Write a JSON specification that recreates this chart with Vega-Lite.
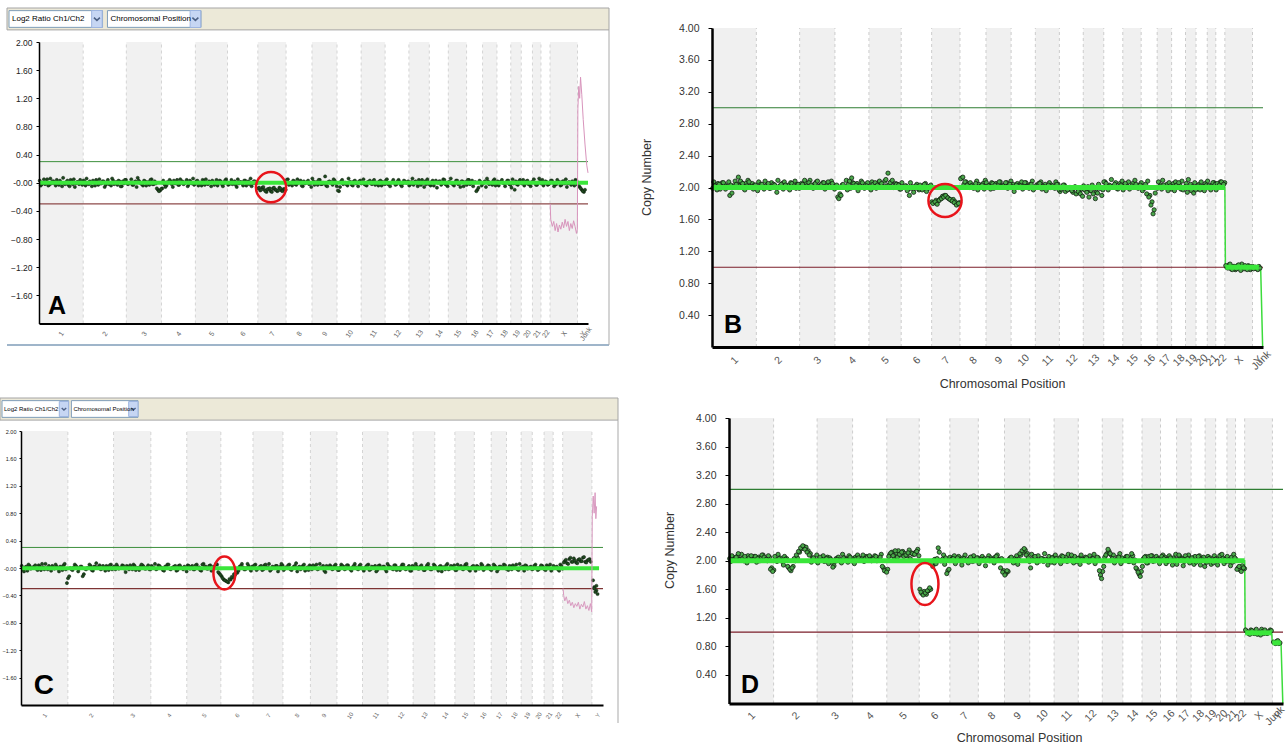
{
"$schema":"https://vega.github.io/schema/vega-lite/v6.json",
"width":1288,"height":743,"autosize":{"type":"none"},"padding":0,"background":"#ffffff",
"config":{"view":{"stroke":null},"font":"Liberation Sans","axis":{"grid":false}},
"datasets":{
"one":[{}],
"ctl":[{"ctl":"Log2 Ratio Ch1/Ch2"},{"ctl":"Chromosomal Position"}],
"chr":[{"c":"1","s":0,"e":249,"i":1},{"c":"2","s":249,"e":492,"i":2},{"c":"3","s":492,"e":690,"i":3},{"c":"4","s":690,"e":881,"i":4},{"c":"5","s":881,"e":1062,"i":5},{"c":"6","s":1062,"e":1233,"i":6},{"c":"7","s":1233,"e":1392,"i":7},{"c":"8","s":1392,"e":1538,"i":8},{"c":"9","s":1538,"e":1679,"i":9},{"c":"10","s":1679,"e":1815,"i":10},{"c":"11","s":1815,"e":1950,"i":11},{"c":"12","s":1950,"e":2084,"i":12},{"c":"13","s":2084,"e":2199,"i":13},{"c":"14","s":2199,"e":2306,"i":14},{"c":"15","s":2306,"e":2409,"i":15},{"c":"16","s":2409,"e":2499,"i":16},{"c":"17","s":2499,"e":2580,"i":17},{"c":"18","s":2580,"e":2658,"i":18},{"c":"19","s":2658,"e":2717,"i":19},{"c":"20","s":2717,"e":2780,"i":20},{"c":"21","s":2780,"e":2828,"i":21},{"c":"22","s":2828,"e":2879,"i":22},{"c":"X","s":2879,"e":3034,"i":23},{"c":"Y","s":3034,"e":3093,"i":24}],
"segA":[{"p":0,"p2":3093,"v":0}],
"segC":[{"p":0,"p2":3072,"v":-0.005}],
"segB":[{"p":0,"p2":2879,"v":2},{"p":2882,"p2":3070,"v":1}],
"segD":[{"p":0,"p2":2879,"v":2},{"p":2882,"p2":3030,"v":0.99},{"p":3034,"p2":3080,"v":0.85}],
"pathB":[{"p":0,"v":2},{"p":2879,"v":2},{"p":2882,"v":1},{"p":3070,"v":0.99},{"p":3080,"v":0.98},{"p":3091,"v":0}],
"pathD":[{"p":0,"v":2},{"p":2879,"v":2},{"p":2882,"v":1},{"p":3030,"v":0.99},{"p":3033,"v":0.86},{"p":3082,"v":0.85},{"p":3092,"v":0}],
"pinkA":[{"p":2880,"v":-0.3},{"p":2883,"v":-0.52},{"p":2892,"v":-0.62},{"p":2900,"v":-0.55},{"p":2908,"v":-0.68},{"p":2916,"v":-0.58},{"p":2924,"v":-0.7},{"p":2932,"v":-0.6},{"p":2940,"v":-0.66},{"p":2948,"v":-0.56},{"p":2956,"v":-0.64},{"p":2964,"v":-0.52},{"p":2972,"v":-0.62},{"p":2980,"v":-0.55},{"p":2988,"v":-0.68},{"p":2996,"v":-0.58},{"p":3004,"v":-0.65},{"p":3012,"v":-0.54},{"p":3020,"v":-0.62},{"p":3028,"v":-0.72},{"p":3033,"v":-0.66},{"p":3036,"v":1.05},{"p":3041,"v":1.37},{"p":3046,"v":1.2},{"p":3051,"v":1.5},{"p":3058,"v":1.25},{"p":3066,"v":0.9},{"p":3076,"v":0.55},{"p":3086,"v":0.25},{"p":3093,"v":0.14}],
"pinkC":[{"p":2881,"v":-0.3},{"p":2884,"v":-0.4},{"p":2890,"v":-0.48},{"p":2898,"v":-0.42},{"p":2906,"v":-0.52},{"p":2914,"v":-0.47},{"p":2922,"v":-0.55},{"p":2930,"v":-0.5},{"p":2938,"v":-0.58},{"p":2946,"v":-0.52},{"p":2954,"v":-0.56},{"p":2962,"v":-0.5},{"p":2970,"v":-0.6},{"p":2978,"v":-0.53},{"p":2986,"v":-0.57},{"p":2994,"v":-0.49},{"p":3002,"v":-0.6},{"p":3010,"v":-0.55},{"p":3018,"v":-0.62},{"p":3026,"v":-0.52},{"p":3033,"v":-0.64},{"p":3036,"v":0.75},{"p":3041,"v":1.05},{"p":3046,"v":0.8},{"p":3051,"v":1.1},{"p":3055,"v":0.72},{"p":3059,"v":0.9}],
"ptsA":[{"p":4,"v":0.03},{"p":16,"v":-0.02},{"p":28,"v":0.05},{"p":40,"v":0.01},{"p":52,"v":-0.04},{"p":64,"v":0.06},{"p":76,"v":0.02},{"p":88,"v":-0.01},{"p":100,"v":0.04},{"p":112,"v":-0.03},{"p":124,"v":0.0},{"p":136,"v":0.07},{"p":148,"v":-0.02},{"p":160,"v":0.03},{"p":172,"v":-0.05},{"p":184,"v":0.02},{"p":196,"v":0.05},{"p":208,"v":-0.01},{"p":220,"v":0.01},{"p":232,"v":0.04},{"p":244,"v":-0.03},{"p":256,"v":0.02},{"p":268,"v":0.06},{"p":280,"v":-0.02},{"p":292,"v":0.0},{"p":304,"v":0.03},{"p":316,"v":-0.04},{"p":328,"v":0.01},{"p":340,"v":0.05},{"p":352,"v":-0.01},{"p":364,"v":0.02},{"p":376,"v":-0.03},{"p":388,"v":0.04},{"p":400,"v":0.0},{"p":412,"v":0.06},{"p":424,"v":-0.02},{"p":436,"v":0.01},{"p":448,"v":0.03},{"p":460,"v":-0.05},{"p":472,"v":0.02},{"p":484,"v":0.04},{"p":496,"v":-0.01},{"p":508,"v":0.0},{"p":520,"v":0.05},{"p":532,"v":-0.03},{"p":544,"v":0.02},{"p":556,"v":0.07},{"p":568,"v":0.01},{"p":580,"v":-0.02},{"p":592,"v":0.03},{"p":604,"v":-0.04},{"p":616,"v":0.01},{"p":628,"v":0.04},{"p":640,"v":-0.02},{"p":652,"v":0.02},{"p":664,"v":-0.08},{"p":676,"v":-0.12},{"p":688,"v":-0.09},{"p":700,"v":0.03},{"p":712,"v":-0.06},{"p":724,"v":0.01},{"p":736,"v":0.04},{"p":748,"v":-0.02},{"p":760,"v":0.03},{"p":772,"v":0.0},{"p":784,"v":-0.03},{"p":796,"v":0.05},{"p":808,"v":0.02},{"p":820,"v":-0.01},{"p":832,"v":0.04},{"p":844,"v":-0.02},{"p":856,"v":0.01},{"p":868,"v":0.06},{"p":880,"v":-0.01},{"p":892,"v":0.03},{"p":904,"v":0.0},{"p":916,"v":-0.04},{"p":928,"v":0.02},{"p":940,"v":0.05},{"p":952,"v":-0.02},{"p":964,"v":0.01},{"p":976,"v":0.03},{"p":988,"v":-0.03},{"p":1000,"v":0.04},{"p":1012,"v":0.0},{"p":1024,"v":0.02},{"p":1036,"v":-0.05},{"p":1048,"v":0.03},{"p":1060,"v":0.01},{"p":1072,"v":-0.02},{"p":1084,"v":0.04},{"p":1096,"v":0.0},{"p":1108,"v":-0.03},{"p":1120,"v":0.05},{"p":1132,"v":0.01},{"p":1144,"v":-0.01},{"p":1156,"v":0.03},{"p":1168,"v":-0.04},{"p":1180,"v":0.02},{"p":1192,"v":0.06},{"p":1204,"v":-0.01},{"p":1216,"v":0.02},{"p":1228,"v":0.0},{"p":1240,"v":-0.07},{"p":1252,"v":-0.1},{"p":1264,"v":-0.06},{"p":1276,"v":-0.12},{"p":1288,"v":-0.09},{"p":1300,"v":-0.08},{"p":1312,"v":-0.13},{"p":1324,"v":-0.07},{"p":1336,"v":-0.1},{"p":1348,"v":-0.11},{"p":1360,"v":-0.08},{"p":1372,"v":-0.12},{"p":1384,"v":-0.09},{"p":1396,"v":0.04},{"p":1408,"v":-0.03},{"p":1420,"v":0.0},{"p":1432,"v":0.03},{"p":1444,"v":-0.02},{"p":1456,"v":0.05},{"p":1468,"v":0.01},{"p":1480,"v":-0.04},{"p":1492,"v":0.02},{"p":1504,"v":0.0},{"p":1516,"v":0.03},{"p":1528,"v":-0.01},{"p":1540,"v":0.06},{"p":1552,"v":-0.03},{"p":1564,"v":0.01},{"p":1576,"v":0.04},{"p":1588,"v":-0.02},{"p":1600,"v":0.0},{"p":1612,"v":0.09},{"p":1624,"v":-0.05},{"p":1636,"v":0.02},{"p":1648,"v":0.01},{"p":1660,"v":0.05},{"p":1672,"v":-0.01},{"p":1684,"v":-0.11},{"p":1696,"v":-0.06},{"p":1708,"v":0.04},{"p":1720,"v":0.0},{"p":1732,"v":-0.02},{"p":1744,"v":0.06},{"p":1756,"v":0.01},{"p":1768,"v":-0.04},{"p":1780,"v":0.03},{"p":1792,"v":0.0},{"p":1804,"v":0.02},{"p":1816,"v":-0.01},{"p":1828,"v":0.05},{"p":1840,"v":-0.03},{"p":1852,"v":0.01},{"p":1864,"v":0.03},{"p":1876,"v":-0.02},{"p":1888,"v":0.04},{"p":1900,"v":0.0},{"p":1912,"v":-0.04},{"p":1924,"v":0.03},{"p":1936,"v":0.01},{"p":1948,"v":-0.02},{"p":1960,"v":0.05},{"p":1972,"v":-0.01},{"p":1984,"v":0.0},{"p":1996,"v":0.04},{"p":2008,"v":-0.03},{"p":2020,"v":0.02},{"p":2032,"v":0.01},{"p":2044,"v":-0.05},{"p":2056,"v":0.03},{"p":2068,"v":0.0},{"p":2080,"v":0.02},{"p":2092,"v":-0.02},{"p":2104,"v":0.06},{"p":2116,"v":0.01},{"p":2128,"v":-0.01},{"p":2140,"v":0.04},{"p":2152,"v":-0.03},{"p":2164,"v":0.0},{"p":2176,"v":0.02},{"p":2188,"v":0.05},{"p":2200,"v":-0.02},{"p":2212,"v":0.01},{"p":2224,"v":-0.04},{"p":2236,"v":0.03},{"p":2248,"v":0.0},{"p":2260,"v":0.02},{"p":2272,"v":-0.01},{"p":2284,"v":0.04},{"p":2296,"v":-0.03},{"p":2308,"v":0.01},{"p":2320,"v":0.06},{"p":2332,"v":-0.02},{"p":2344,"v":0.0},{"p":2356,"v":0.03},{"p":2368,"v":-0.01},{"p":2380,"v":0.02},{"p":2392,"v":-0.05},{"p":2404,"v":0.01},{"p":2416,"v":0.04},{"p":2428,"v":-0.02},{"p":2440,"v":0.03},{"p":2452,"v":0.0},{"p":2464,"v":-0.12},{"p":2476,"v":-0.07},{"p":2488,"v":0.01},{"p":2500,"v":-0.01},{"p":2512,"v":0.02},{"p":2524,"v":0.06},{"p":2536,"v":-0.02},{"p":2548,"v":0.0},{"p":2560,"v":0.03},{"p":2572,"v":-0.04},{"p":2584,"v":0.02},{"p":2596,"v":0.01},{"p":2608,"v":0.04},{"p":2620,"v":-0.01},{"p":2632,"v":0.0},{"p":2644,"v":0.03},{"p":2656,"v":-0.03},{"p":2668,"v":0.05},{"p":2680,"v":-0.1},{"p":2692,"v":-0.02},{"p":2704,"v":0.02},{"p":2716,"v":0.0},{"p":2728,"v":0.04},{"p":2740,"v":-0.01},{"p":2752,"v":0.03},{"p":2764,"v":-0.02},{"p":2776,"v":0.01},{"p":2788,"v":0.05},{"p":2800,"v":-0.03},{"p":2812,"v":0.0},{"p":2824,"v":0.02},{"p":2836,"v":0.04},{"p":2848,"v":-0.01},{"p":2860,"v":0.01},{"p":2872,"v":-0.02},{"p":2884,"v":0.03},{"p":2896,"v":0.0},{"p":2908,"v":-0.02},{"p":2920,"v":0.04},{"p":2932,"v":0.01},{"p":2944,"v":-0.03},{"p":2956,"v":0.02},{"p":2968,"v":0.05},{"p":2980,"v":-0.01},{"p":2992,"v":0.0},{"p":3004,"v":0.02},{"p":3016,"v":-0.04},{"p":3028,"v":0.03},{"p":3040,"v":-0.04},{"p":3052,"v":-0.08},{"p":3064,"v":-0.12},{"p":3076,"v":-0.1}],
"ptsA2":[{"p":10,"v":-0.04},{"p":22,"v":0.0},{"p":34,"v":-0.02},{"p":46,"v":0.05},{"p":58,"v":-0.03},{"p":70,"v":-0.01},{"p":82,"v":0.02},{"p":94,"v":-0.04},{"p":106,"v":0.0},{"p":118,"v":0.03},{"p":130,"v":-0.05},{"p":142,"v":-0.01},{"p":154,"v":0.01},{"p":166,"v":-0.03},{"p":178,"v":0.04},{"p":190,"v":-0.02},{"p":202,"v":-0.06},{"p":214,"v":0.01},{"p":226,"v":-0.02},{"p":238,"v":0.0},{"p":250,"v":0.03},{"p":262,"v":-0.04},{"p":274,"v":-0.01},{"p":286,"v":0.02},{"p":298,"v":-0.05},{"p":310,"v":0.0},{"p":322,"v":0.04},{"p":334,"v":-0.03},{"p":346,"v":-0.01},{"p":358,"v":0.02},{"p":370,"v":-0.06},{"p":382,"v":0.01},{"p":394,"v":-0.02},{"p":406,"v":-0.04},{"p":418,"v":0.03},{"p":430,"v":0.0},{"p":442,"v":-0.03},{"p":454,"v":0.02},{"p":466,"v":-0.05},{"p":478,"v":-0.01},{"p":490,"v":0.04},{"p":502,"v":-0.02},{"p":514,"v":0.0},{"p":526,"v":-0.03},{"p":538,"v":0.01},{"p":550,"v":-0.06},{"p":562,"v":0.03},{"p":574,"v":-0.01},{"p":586,"v":-0.04},{"p":598,"v":0.02},{"p":610,"v":0.0},{"p":622,"v":-0.03},{"p":634,"v":0.05},{"p":646,"v":-0.02},{"p":658,"v":-0.01},{"p":670,"v":-0.1},{"p":682,"v":-0.11},{"p":694,"v":-0.08},{"p":706,"v":-0.02},{"p":718,"v":-0.04},{"p":730,"v":0.0},{"p":742,"v":0.02},{"p":754,"v":-0.06},{"p":766,"v":-0.01},{"p":778,"v":0.04},{"p":790,"v":-0.03},{"p":802,"v":0.0},{"p":814,"v":-0.02},{"p":826,"v":0.01},{"p":838,"v":-0.05},{"p":850,"v":0.03},{"p":862,"v":-0.01},{"p":874,"v":-0.03},{"p":886,"v":0.02},{"p":898,"v":-0.04},{"p":910,"v":0.0},{"p":922,"v":0.04},{"p":934,"v":-0.03},{"p":946,"v":-0.01},{"p":958,"v":0.02},{"p":970,"v":-0.05},{"p":982,"v":0.01},{"p":994,"v":0.0},{"p":1006,"v":-0.04},{"p":1018,"v":0.03},{"p":1030,"v":-0.02},{"p":1042,"v":-0.01},{"p":1054,"v":0.05},{"p":1066,"v":-0.03},{"p":1078,"v":0.0},{"p":1090,"v":-0.02},{"p":1102,"v":0.02},{"p":1114,"v":-0.06},{"p":1126,"v":-0.01},{"p":1138,"v":0.01},{"p":1150,"v":-0.04},{"p":1162,"v":0.03},{"p":1174,"v":0.0},{"p":1186,"v":-0.02},{"p":1198,"v":-0.05},{"p":1210,"v":0.02},{"p":1222,"v":-0.01},{"p":1234,"v":-0.08},{"p":1246,"v":-0.11},{"p":1258,"v":-0.07},{"p":1270,"v":-0.1},{"p":1282,"v":-0.13},{"p":1294,"v":-0.09},{"p":1306,"v":-0.12},{"p":1318,"v":-0.08},{"p":1330,"v":-0.1},{"p":1342,"v":-0.12},{"p":1354,"v":-0.07},{"p":1366,"v":-0.11},{"p":1378,"v":-0.09},{"p":1390,"v":-0.1},{"p":1402,"v":0.05},{"p":1414,"v":-0.01},{"p":1426,"v":-0.04},{"p":1438,"v":0.02},{"p":1450,"v":-0.03},{"p":1462,"v":0.0},{"p":1474,"v":0.03},{"p":1486,"v":-0.05},{"p":1498,"v":-0.01},{"p":1510,"v":0.01},{"p":1522,"v":-0.02},{"p":1534,"v":-0.06},{"p":1546,"v":0.02},{"p":1558,"v":0.0},{"p":1570,"v":-0.03},{"p":1582,"v":0.04},{"p":1594,"v":-0.02},{"p":1606,"v":-0.01},{"p":1618,"v":-0.04},{"p":1630,"v":0.01},{"p":1642,"v":0.0},{"p":1654,"v":-0.03},{"p":1666,"v":0.03},{"p":1678,"v":-0.05},{"p":1690,"v":-0.12},{"p":1702,"v":0.02},{"p":1714,"v":-0.02},{"p":1726,"v":0.0},{"p":1738,"v":-0.04},{"p":1750,"v":0.01},{"p":1762,"v":-0.03},{"p":1774,"v":0.02},{"p":1786,"v":-0.01},{"p":1798,"v":-0.05},{"p":1810,"v":0.03},{"p":1822,"v":0.0},{"p":1834,"v":-0.02},{"p":1846,"v":-0.04},{"p":1858,"v":0.01},{"p":1870,"v":-0.01},{"p":1882,"v":0.02},{"p":1894,"v":-0.03},{"p":1906,"v":0.0},{"p":1918,"v":0.02},{"p":1930,"v":-0.04},{"p":1942,"v":-0.01},{"p":1954,"v":0.03},{"p":1966,"v":-0.02},{"p":1978,"v":-0.05},{"p":1990,"v":0.01},{"p":2002,"v":0.0},{"p":2014,"v":-0.02},{"p":2026,"v":0.04},{"p":2038,"v":-0.03},{"p":2050,"v":-0.01},{"p":2062,"v":0.02},{"p":2074,"v":0.0},{"p":2086,"v":-0.04},{"p":2098,"v":0.01},{"p":2110,"v":-0.03},{"p":2122,"v":0.02},{"p":2134,"v":-0.05},{"p":2146,"v":-0.01},{"p":2158,"v":0.04},{"p":2170,"v":-0.06},{"p":2182,"v":-0.02},{"p":2194,"v":0.01},{"p":2206,"v":-0.04},{"p":2218,"v":0.03},{"p":2230,"v":0.0},{"p":2242,"v":-0.07},{"p":2254,"v":0.02},{"p":2266,"v":-0.03},{"p":2278,"v":0.05},{"p":2290,"v":-0.02},{"p":2302,"v":-0.05},{"p":2314,"v":0.01},{"p":2326,"v":-0.01},{"p":2338,"v":-0.04},{"p":2350,"v":0.03},{"p":2362,"v":-0.02},{"p":2374,"v":-0.06},{"p":2386,"v":0.02},{"p":2398,"v":0.0},{"p":2410,"v":-0.03},{"p":2422,"v":0.04},{"p":2434,"v":-0.01},{"p":2446,"v":-0.05},{"p":2458,"v":0.01},{"p":2470,"v":-0.1},{"p":2482,"v":0.03},{"p":2494,"v":-0.04},{"p":2506,"v":0.0},{"p":2518,"v":-0.06},{"p":2530,"v":0.02},{"p":2542,"v":-0.01},{"p":2554,"v":-0.03},{"p":2566,"v":0.05},{"p":2578,"v":-0.02},{"p":2590,"v":-0.04},{"p":2602,"v":0.01},{"p":2614,"v":0.0},{"p":2626,"v":-0.05},{"p":2638,"v":0.03},{"p":2650,"v":-0.02},{"p":2662,"v":-0.07},{"p":2674,"v":-0.01},{"p":2686,"v":0.02},{"p":2698,"v":-0.03},{"p":2710,"v":0.04},{"p":2722,"v":-0.01},{"p":2734,"v":-0.04},{"p":2746,"v":0.02},{"p":2758,"v":-0.02},{"p":2770,"v":-0.05},{"p":2782,"v":0.01},{"p":2794,"v":0.0},{"p":2806,"v":-0.03},{"p":2818,"v":0.06},{"p":2830,"v":-0.01},{"p":2842,"v":-0.04},{"p":2854,"v":0.02},{"p":2866,"v":-0.03},{"p":2878,"v":0.0},{"p":2890,"v":0.03},{"p":2902,"v":-0.05},{"p":2914,"v":-0.02},{"p":2926,"v":0.01},{"p":2938,"v":-0.04},{"p":2950,"v":0.02},{"p":2962,"v":-0.01},{"p":2974,"v":-0.06},{"p":2986,"v":0.01},{"p":2998,"v":-0.03},{"p":3010,"v":0.0},{"p":3022,"v":0.04},{"p":3034,"v":-0.02},{"p":3046,"v":-0.06},{"p":3058,"v":-0.1},{"p":3070,"v":-0.13}],
"ptsC":[{"p":4,"v":0.03},{"p":16,"v":-0.05},{"p":28,"v":0.02},{"p":40,"v":0.05},{"p":52,"v":-0.01},{"p":64,"v":0.01},{"p":76,"v":0.04},{"p":88,"v":-0.03},{"p":100,"v":0.02},{"p":112,"v":0.06},{"p":124,"v":-0.02},{"p":136,"v":0.0},{"p":148,"v":0.03},{"p":160,"v":-0.04},{"p":172,"v":0.01},{"p":184,"v":0.05},{"p":196,"v":-0.01},{"p":208,"v":0.02},{"p":220,"v":-0.03},{"p":232,"v":0.06},{"p":244,"v":-0.22},{"p":256,"v":-0.12},{"p":268,"v":-0.02},{"p":280,"v":0.01},{"p":292,"v":0.03},{"p":304,"v":-0.05},{"p":316,"v":0.02},{"p":328,"v":-0.12},{"p":340,"v":-0.01},{"p":352,"v":0.0},{"p":364,"v":0.05},{"p":376,"v":-0.03},{"p":388,"v":0.02},{"p":400,"v":0.07},{"p":412,"v":0.01},{"p":424,"v":-0.02},{"p":436,"v":0.03},{"p":448,"v":-0.04},{"p":460,"v":0.01},{"p":472,"v":0.04},{"p":484,"v":-0.02},{"p":496,"v":0.02},{"p":508,"v":0.05},{"p":520,"v":-0.01},{"p":532,"v":0.0},{"p":544,"v":0.03},{"p":556,"v":-0.06},{"p":568,"v":0.01},{"p":580,"v":0.04},{"p":592,"v":-0.02},{"p":604,"v":0.03},{"p":616,"v":0.0},{"p":628,"v":-0.03},{"p":640,"v":0.05},{"p":652,"v":0.02},{"p":664,"v":-0.01},{"p":676,"v":0.04},{"p":688,"v":-0.02},{"p":700,"v":0.01},{"p":712,"v":0.06},{"p":724,"v":-0.01},{"p":736,"v":0.03},{"p":748,"v":0.0},{"p":760,"v":-0.04},{"p":772,"v":0.02},{"p":784,"v":0.05},{"p":796,"v":-0.02},{"p":808,"v":0.01},{"p":820,"v":0.03},{"p":832,"v":-0.03},{"p":844,"v":0.04},{"p":856,"v":0.0},{"p":868,"v":0.02},{"p":880,"v":-0.05},{"p":892,"v":0.03},{"p":904,"v":0.01},{"p":916,"v":-0.02},{"p":928,"v":0.04},{"p":940,"v":0.0},{"p":952,"v":-0.03},{"p":964,"v":0.05},{"p":976,"v":0.01},{"p":988,"v":-0.01},{"p":1000,"v":0.03},{"p":1012,"v":-0.04},{"p":1024,"v":0.02},{"p":1036,"v":0.06},{"p":1048,"v":-0.06},{"p":1060,"v":-0.1},{"p":1072,"v":-0.15},{"p":1084,"v":-0.18},{"p":1096,"v":-0.2},{"p":1108,"v":-0.16},{"p":1120,"v":-0.13},{"p":1132,"v":-0.09},{"p":1144,"v":-0.06},{"p":1156,"v":-0.04},{"p":1168,"v":0.03},{"p":1180,"v":0.01},{"p":1192,"v":-0.02},{"p":1204,"v":0.06},{"p":1216,"v":-0.01},{"p":1228,"v":0.02},{"p":1240,"v":0.04},{"p":1252,"v":-0.03},{"p":1264,"v":0.0},{"p":1276,"v":0.03},{"p":1288,"v":-0.02},{"p":1300,"v":0.05},{"p":1312,"v":0.01},{"p":1324,"v":-0.04},{"p":1336,"v":0.02},{"p":1348,"v":0.0},{"p":1360,"v":0.03},{"p":1372,"v":-0.01},{"p":1384,"v":0.06},{"p":1396,"v":-0.03},{"p":1408,"v":0.01},{"p":1420,"v":0.04},{"p":1432,"v":-0.02},{"p":1444,"v":0.0},{"p":1456,"v":0.03},{"p":1468,"v":-0.05},{"p":1480,"v":0.02},{"p":1492,"v":0.01},{"p":1504,"v":0.05},{"p":1516,"v":-0.01},{"p":1528,"v":-0.03},{"p":1540,"v":0.02},{"p":1552,"v":0.04},{"p":1564,"v":0.0},{"p":1576,"v":-0.02},{"p":1588,"v":0.06},{"p":1600,"v":0.01},{"p":1612,"v":-0.04},{"p":1624,"v":0.03},{"p":1636,"v":0.0},{"p":1648,"v":0.02},{"p":1660,"v":-0.01},{"p":1672,"v":0.05},{"p":1684,"v":-0.03},{"p":1696,"v":0.01},{"p":1708,"v":0.03},{"p":1720,"v":-0.02},{"p":1732,"v":0.04},{"p":1744,"v":0.0},{"p":1756,"v":-0.04},{"p":1768,"v":0.03},{"p":1780,"v":0.01},{"p":1792,"v":-0.02},{"p":1804,"v":0.05},{"p":1816,"v":-0.01},{"p":1828,"v":0.0},{"p":1840,"v":0.04},{"p":1852,"v":-0.03},{"p":1864,"v":0.02},{"p":1876,"v":0.01},{"p":1888,"v":-0.05},{"p":1900,"v":0.03},{"p":1912,"v":0.0},{"p":1924,"v":0.02},{"p":1936,"v":-0.02},{"p":1948,"v":0.06},{"p":1960,"v":0.01},{"p":1972,"v":-0.01},{"p":1984,"v":0.04},{"p":1996,"v":-0.03},{"p":2008,"v":0.0},{"p":2020,"v":0.02},{"p":2032,"v":0.05},{"p":2044,"v":-0.02},{"p":2056,"v":0.01},{"p":2068,"v":-0.04},{"p":2080,"v":0.03},{"p":2092,"v":0.0},{"p":2104,"v":0.02},{"p":2116,"v":-0.01},{"p":2128,"v":0.04},{"p":2140,"v":-0.03},{"p":2152,"v":0.01},{"p":2164,"v":0.06},{"p":2176,"v":-0.02},{"p":2188,"v":0.0},{"p":2200,"v":0.03},{"p":2212,"v":-0.01},{"p":2224,"v":0.02},{"p":2236,"v":-0.05},{"p":2248,"v":0.01},{"p":2260,"v":0.04},{"p":2272,"v":-0.02},{"p":2284,"v":0.03},{"p":2296,"v":0.0},{"p":2308,"v":-0.03},{"p":2320,"v":0.05},{"p":2332,"v":0.01},{"p":2344,"v":-0.01},{"p":2356,"v":0.02},{"p":2368,"v":0.06},{"p":2380,"v":-0.02},{"p":2392,"v":0.0},{"p":2404,"v":0.03},{"p":2416,"v":-0.04},{"p":2428,"v":0.02},{"p":2440,"v":0.01},{"p":2452,"v":0.04},{"p":2464,"v":-0.01},{"p":2476,"v":0.0},{"p":2488,"v":0.03},{"p":2500,"v":-0.03},{"p":2512,"v":0.05},{"p":2524,"v":0.01},{"p":2536,"v":-0.02},{"p":2548,"v":0.02},{"p":2560,"v":0.0},{"p":2572,"v":0.04},{"p":2584,"v":-0.01},{"p":2596,"v":0.03},{"p":2608,"v":-0.02},{"p":2620,"v":0.01},{"p":2632,"v":0.05},{"p":2644,"v":-0.03},{"p":2656,"v":0.0},{"p":2668,"v":0.02},{"p":2680,"v":0.04},{"p":2692,"v":-0.01},{"p":2704,"v":0.01},{"p":2716,"v":-0.02},{"p":2728,"v":0.03},{"p":2740,"v":0.0},{"p":2752,"v":-0.02},{"p":2764,"v":0.04},{"p":2776,"v":0.01},{"p":2788,"v":-0.03},{"p":2800,"v":0.02},{"p":2812,"v":0.05},{"p":2824,"v":-0.01},{"p":2836,"v":0.0},{"p":2848,"v":0.02},{"p":2860,"v":-0.04},{"p":2872,"v":0.03},{"p":2884,"v":0.08},{"p":2896,"v":0.12},{"p":2908,"v":0.06},{"p":2920,"v":0.15},{"p":2932,"v":0.09},{"p":2944,"v":0.11},{"p":2956,"v":0.07},{"p":2968,"v":0.13},{"p":2980,"v":0.1},{"p":2992,"v":0.16},{"p":3004,"v":0.08},{"p":3016,"v":0.12},{"p":3028,"v":0.09},{"p":3040,"v":-0.18},{"p":3046,"v":-0.3},{"p":3052,"v":-0.35},{"p":3058,"v":-0.26},{"p":3064,"v":-0.38}],
"ptsC2":[{"p":10,"v":-0.02},{"p":22,"v":0.01},{"p":34,"v":-0.04},{"p":46,"v":0.03},{"p":58,"v":0.0},{"p":70,"v":0.02},{"p":82,"v":-0.01},{"p":94,"v":0.04},{"p":106,"v":-0.03},{"p":118,"v":0.01},{"p":130,"v":0.06},{"p":142,"v":-0.02},{"p":154,"v":0.0},{"p":166,"v":0.03},{"p":178,"v":-0.01},{"p":190,"v":0.02},{"p":202,"v":-0.05},{"p":214,"v":0.01},{"p":226,"v":0.04},{"p":238,"v":-0.02},{"p":250,"v":-0.15},{"p":262,"v":0.0},{"p":274,"v":-0.03},{"p":286,"v":0.05},{"p":298,"v":0.01},{"p":310,"v":-0.01},{"p":322,"v":0.02},{"p":334,"v":-0.09},{"p":346,"v":-0.02},{"p":358,"v":0.0},{"p":370,"v":0.03},{"p":382,"v":-0.04},{"p":394,"v":0.02},{"p":406,"v":0.01},{"p":418,"v":0.04},{"p":430,"v":-0.01},{"p":442,"v":0.0},{"p":454,"v":0.03},{"p":466,"v":-0.03},{"p":478,"v":0.05},{"p":490,"v":0.01},{"p":502,"v":-0.02},{"p":514,"v":0.02},{"p":526,"v":0.0},{"p":538,"v":0.04},{"p":550,"v":-0.01},{"p":562,"v":0.03},{"p":574,"v":-0.02},{"p":586,"v":0.01},{"p":598,"v":0.05},{"p":610,"v":-0.03},{"p":622,"v":0.0},{"p":634,"v":0.02},{"p":646,"v":0.04},{"p":658,"v":-0.01},{"p":670,"v":0.01},{"p":682,"v":-0.02},{"p":694,"v":0.03},{"p":706,"v":0.0},{"p":718,"v":-0.02},{"p":730,"v":0.04},{"p":742,"v":0.01},{"p":754,"v":-0.03},{"p":766,"v":0.02},{"p":778,"v":0.05},{"p":790,"v":-0.01},{"p":802,"v":0.0},{"p":814,"v":0.02},{"p":826,"v":-0.04},{"p":838,"v":0.03},{"p":850,"v":0.01},{"p":862,"v":-0.02},{"p":874,"v":0.0},{"p":886,"v":0.04},{"p":898,"v":-0.01},{"p":910,"v":0.03},{"p":922,"v":-0.02},{"p":934,"v":0.05},{"p":946,"v":0.01},{"p":958,"v":-0.04},{"p":970,"v":0.06},{"p":982,"v":0.02},{"p":994,"v":-0.01},{"p":1006,"v":0.04},{"p":1018,"v":-0.03},{"p":1030,"v":0.0},{"p":1042,"v":0.05},{"p":1054,"v":-0.08},{"p":1066,"v":-0.12},{"p":1078,"v":-0.17},{"p":1090,"v":-0.19},{"p":1102,"v":-0.21},{"p":1114,"v":-0.17},{"p":1126,"v":-0.14},{"p":1138,"v":-0.1},{"p":1150,"v":-0.07},{"p":1162,"v":0.02},{"p":1174,"v":0.06},{"p":1186,"v":-0.02},{"p":1198,"v":0.0},{"p":1210,"v":0.03},{"p":1222,"v":-0.04},{"p":1234,"v":0.01},{"p":1246,"v":0.05},{"p":1258,"v":-0.01},{"p":1270,"v":0.02},{"p":1282,"v":-0.03},{"p":1294,"v":0.04},{"p":1306,"v":0.0},{"p":1318,"v":0.06},{"p":1330,"v":-0.02},{"p":1342,"v":0.01},{"p":1354,"v":0.03},{"p":1366,"v":-0.05},{"p":1378,"v":0.02},{"p":1390,"v":0.04},{"p":1402,"v":-0.01},{"p":1414,"v":0.0},{"p":1426,"v":0.05},{"p":1438,"v":-0.03},{"p":1450,"v":0.02},{"p":1462,"v":0.07},{"p":1474,"v":0.01},{"p":1486,"v":-0.02},{"p":1498,"v":0.03},{"p":1510,"v":-0.04},{"p":1522,"v":0.01},{"p":1534,"v":0.04},{"p":1546,"v":-0.02},{"p":1558,"v":0.02},{"p":1570,"v":0.05},{"p":1582,"v":-0.01},{"p":1594,"v":0.0},{"p":1606,"v":0.03},{"p":1618,"v":-0.06},{"p":1630,"v":0.01},{"p":1642,"v":0.04},{"p":1654,"v":-0.02},{"p":1666,"v":0.03},{"p":1678,"v":0.0},{"p":1690,"v":-0.03},{"p":1702,"v":0.05},{"p":1714,"v":0.02},{"p":1726,"v":-0.01},{"p":1738,"v":0.04},{"p":1750,"v":-0.02},{"p":1762,"v":0.01},{"p":1774,"v":0.06},{"p":1786,"v":-0.01},{"p":1798,"v":0.03},{"p":1810,"v":0.0},{"p":1822,"v":-0.04},{"p":1834,"v":0.02},{"p":1846,"v":0.05},{"p":1858,"v":-0.02},{"p":1870,"v":0.01},{"p":1882,"v":0.03},{"p":1894,"v":-0.03},{"p":1906,"v":0.04},{"p":1918,"v":0.0},{"p":1930,"v":0.02},{"p":1942,"v":-0.05},{"p":1954,"v":0.03},{"p":1966,"v":0.01},{"p":1978,"v":-0.02},{"p":1990,"v":0.04},{"p":2002,"v":0.0},{"p":2014,"v":-0.03},{"p":2026,"v":0.05},{"p":2038,"v":0.01},{"p":2050,"v":-0.01},{"p":2062,"v":0.03},{"p":2074,"v":-0.04},{"p":2086,"v":0.02},{"p":2098,"v":0.06},{"p":2110,"v":-0.01},{"p":2122,"v":0.02},{"p":2134,"v":0.0},{"p":2146,"v":-0.03},{"p":2158,"v":0.04},{"p":2170,"v":0.01},{"p":2182,"v":-0.02},{"p":2194,"v":0.05},{"p":2206,"v":0.0},{"p":2218,"v":-0.04},{"p":2230,"v":0.03},{"p":2242,"v":0.01},{"p":2254,"v":-0.02},{"p":2266,"v":0.06},{"p":2278,"v":-0.01},{"p":2290,"v":0.02},{"p":2302,"v":0.04},{"p":2314,"v":-0.03},{"p":2326,"v":0.0},{"p":2338,"v":0.03},{"p":2350,"v":-0.02},{"p":2362,"v":0.05},{"p":2374,"v":0.01},{"p":2386,"v":-0.04},{"p":2398,"v":0.02},{"p":2410,"v":0.0},{"p":2422,"v":0.03},{"p":2434,"v":-0.01},{"p":2446,"v":0.06},{"p":2458,"v":-0.03},{"p":2470,"v":0.01},{"p":2482,"v":0.04},{"p":2494,"v":-0.02},{"p":2506,"v":0.0},{"p":2518,"v":0.03},{"p":2530,"v":-0.05},{"p":2542,"v":0.02},{"p":2554,"v":0.01},{"p":2566,"v":0.05},{"p":2578,"v":-0.01},{"p":2590,"v":-0.03},{"p":2602,"v":0.02},{"p":2614,"v":0.04},{"p":2626,"v":0.0},{"p":2638,"v":-0.02},{"p":2650,"v":0.06},{"p":2662,"v":0.01},{"p":2674,"v":-0.04},{"p":2686,"v":0.03},{"p":2698,"v":0.0},{"p":2710,"v":0.02},{"p":2722,"v":-0.01},{"p":2734,"v":0.05},{"p":2746,"v":-0.03},{"p":2758,"v":0.01},{"p":2770,"v":0.03},{"p":2782,"v":-0.02},{"p":2794,"v":0.04},{"p":2806,"v":0.0},{"p":2818,"v":-0.04},{"p":2830,"v":0.03},{"p":2842,"v":0.01},{"p":2854,"v":-0.02},{"p":2866,"v":0.05},{"p":2878,"v":-0.01},{"p":2890,"v":0.1},{"p":2902,"v":0.07},{"p":2914,"v":0.13},{"p":2926,"v":0.09},{"p":2938,"v":0.14},{"p":2950,"v":0.08},{"p":2962,"v":0.12},{"p":2974,"v":0.1},{"p":2986,"v":0.15},{"p":2998,"v":0.09},{"p":3010,"v":0.11},{"p":3022,"v":0.13},{"p":3046,"v":-0.28},{"p":3058,"v":-0.33}],
"ptsB":[{"p":4,"v":1.99},{"p":16,"v":2.02},{"p":28,"v":1.97},{"p":40,"v":2.04},{"p":52,"v":2.0},{"p":64,"v":2.06},{"p":76,"v":1.98},{"p":88,"v":2.01},{"p":100,"v":1.9},{"p":112,"v":1.93},{"p":124,"v":2.02},{"p":136,"v":2.04},{"p":148,"v":2.13},{"p":160,"v":2.08},{"p":172,"v":2.05},{"p":184,"v":1.97},{"p":196,"v":2.02},{"p":208,"v":2.07},{"p":220,"v":2.01},{"p":232,"v":1.98},{"p":244,"v":2.03},{"p":256,"v":1.96},{"p":268,"v":2.01},{"p":280,"v":2.04},{"p":292,"v":1.98},{"p":304,"v":2.02},{"p":316,"v":2.05},{"p":328,"v":1.99},{"p":340,"v":2.0},{"p":352,"v":2.03},{"p":364,"v":1.94},{"p":376,"v":2.01},{"p":388,"v":2.04},{"p":400,"v":1.98},{"p":412,"v":2.03},{"p":424,"v":2.0},{"p":436,"v":1.97},{"p":448,"v":2.05},{"p":460,"v":2.02},{"p":472,"v":1.99},{"p":484,"v":2.04},{"p":496,"v":2.01},{"p":508,"v":2.04},{"p":520,"v":2.09},{"p":532,"v":2.02},{"p":544,"v":2.06},{"p":556,"v":2.03},{"p":568,"v":1.99},{"p":580,"v":2.05},{"p":592,"v":2.08},{"p":604,"v":2.01},{"p":616,"v":2.04},{"p":628,"v":2.06},{"p":640,"v":2.0},{"p":652,"v":2.07},{"p":664,"v":2.03},{"p":676,"v":2.05},{"p":688,"v":1.98},{"p":700,"v":2.03},{"p":712,"v":1.86},{"p":724,"v":1.9},{"p":736,"v":2.04},{"p":748,"v":2.0},{"p":760,"v":1.97},{"p":772,"v":2.08},{"p":784,"v":2.12},{"p":796,"v":2.05},{"p":808,"v":2.03},{"p":820,"v":1.96},{"p":832,"v":2.02},{"p":844,"v":2.06},{"p":856,"v":1.99},{"p":868,"v":2.02},{"p":880,"v":2.0},{"p":892,"v":1.97},{"p":904,"v":2.04},{"p":916,"v":2.06},{"p":928,"v":2.03},{"p":940,"v":2.08},{"p":952,"v":2.05},{"p":964,"v":2.01},{"p":976,"v":2.1},{"p":988,"v":2.18},{"p":1000,"v":2.06},{"p":1012,"v":2.09},{"p":1024,"v":2.02},{"p":1036,"v":2.04},{"p":1048,"v":2.03},{"p":1060,"v":1.98},{"p":1072,"v":2.0},{"p":1084,"v":2.02},{"p":1096,"v":1.96},{"p":1108,"v":1.9},{"p":1120,"v":1.99},{"p":1132,"v":1.94},{"p":1144,"v":2.02},{"p":1156,"v":1.99},{"p":1168,"v":2.03},{"p":1180,"v":1.97},{"p":1192,"v":2.04},{"p":1204,"v":1.95},{"p":1216,"v":2.01},{"p":1228,"v":2.03},{"p":1240,"v":1.8},{"p":1252,"v":1.82},{"p":1264,"v":1.79},{"p":1276,"v":1.84},{"p":1288,"v":1.86},{"p":1300,"v":1.88},{"p":1312,"v":1.9},{"p":1324,"v":1.87},{"p":1336,"v":1.85},{"p":1348,"v":1.83},{"p":1360,"v":1.81},{"p":1372,"v":1.78},{"p":1384,"v":1.8},{"p":1396,"v":2.11},{"p":1408,"v":2.13},{"p":1420,"v":2.07},{"p":1432,"v":2.03},{"p":1444,"v":2.0},{"p":1456,"v":2.02},{"p":1468,"v":1.99},{"p":1480,"v":2.05},{"p":1492,"v":1.97},{"p":1504,"v":2.01},{"p":1516,"v":2.03},{"p":1528,"v":1.98},{"p":1540,"v":2.06},{"p":1552,"v":2.02},{"p":1564,"v":1.98},{"p":1576,"v":2.05},{"p":1588,"v":2.03},{"p":1600,"v":2.0},{"p":1612,"v":2.07},{"p":1624,"v":2.01},{"p":1636,"v":2.02},{"p":1648,"v":2.06},{"p":1660,"v":1.99},{"p":1672,"v":2.04},{"p":1684,"v":2.01},{"p":1696,"v":1.95},{"p":1708,"v":2.03},{"p":1720,"v":2.0},{"p":1732,"v":2.02},{"p":1744,"v":1.98},{"p":1756,"v":2.06},{"p":1768,"v":2.01},{"p":1780,"v":1.99},{"p":1792,"v":2.04},{"p":1804,"v":1.97},{"p":1816,"v":2.0},{"p":1828,"v":2.02},{"p":1840,"v":2.05},{"p":1852,"v":1.98},{"p":1864,"v":2.01},{"p":1876,"v":1.96},{"p":1888,"v":2.03},{"p":1900,"v":2.0},{"p":1912,"v":2.02},{"p":1924,"v":1.99},{"p":1936,"v":2.04},{"p":1948,"v":1.97},{"p":1960,"v":1.98},{"p":1972,"v":2.03},{"p":1984,"v":1.95},{"p":1996,"v":1.97},{"p":2008,"v":2.0},{"p":2020,"v":1.96},{"p":2032,"v":1.99},{"p":2044,"v":1.92},{"p":2056,"v":1.95},{"p":2068,"v":1.92},{"p":2080,"v":1.89},{"p":2092,"v":1.97},{"p":2104,"v":1.94},{"p":2116,"v":1.88},{"p":2128,"v":1.96},{"p":2140,"v":1.92},{"p":2152,"v":1.86},{"p":2164,"v":1.93},{"p":2176,"v":1.99},{"p":2188,"v":1.9},{"p":2200,"v":2.07},{"p":2212,"v":2.05},{"p":2224,"v":1.97},{"p":2236,"v":2.02},{"p":2248,"v":2.01},{"p":2260,"v":2.04},{"p":2272,"v":1.99},{"p":2284,"v":2.0},{"p":2296,"v":2.03},{"p":2308,"v":1.97},{"p":2320,"v":2.05},{"p":2332,"v":2.01},{"p":2344,"v":1.98},{"p":2356,"v":2.02},{"p":2368,"v":2.0},{"p":2380,"v":2.04},{"p":2392,"v":1.99},{"p":2404,"v":2.03},{"p":2416,"v":1.96},{"p":2428,"v":1.99},{"p":2440,"v":1.92},{"p":2452,"v":1.88},{"p":2464,"v":1.78},{"p":2476,"v":1.67},{"p":2488,"v":1.93},{"p":2500,"v":1.99},{"p":2512,"v":2.01},{"p":2524,"v":1.98},{"p":2536,"v":2.03},{"p":2548,"v":2.0},{"p":2560,"v":1.96},{"p":2572,"v":2.02},{"p":2584,"v":2.01},{"p":2596,"v":1.96},{"p":2608,"v":2.03},{"p":2620,"v":2.06},{"p":2632,"v":1.98},{"p":2644,"v":1.97},{"p":2656,"v":2.01},{"p":2668,"v":1.94},{"p":2680,"v":2.0},{"p":2692,"v":1.96},{"p":2704,"v":1.93},{"p":2716,"v":1.97},{"p":2728,"v":2.02},{"p":2740,"v":1.97},{"p":2752,"v":2.01},{"p":2764,"v":1.96},{"p":2776,"v":2.03},{"p":2788,"v":2.02},{"p":2800,"v":1.97},{"p":2812,"v":2.06},{"p":2824,"v":2.04},{"p":2836,"v":2.05},{"p":2848,"v":2.03},{"p":2860,"v":2.07},{"p":2872,"v":2.04},{"p":2884,"v":1.02},{"p":2896,"v":0.99},{"p":2908,"v":1.04},{"p":2920,"v":0.97},{"p":2932,"v":1.01},{"p":2944,"v":0.98},{"p":2956,"v":1.03},{"p":2968,"v":0.96},{"p":2980,"v":1.0},{"p":2992,"v":1.02},{"p":3004,"v":0.97},{"p":3016,"v":1.01},{"p":3028,"v":0.99},{"p":3040,"v":0.98},{"p":3052,"v":1.0},{"p":3064,"v":0.97},{"p":3076,"v":0.99}],
"ptsB2":[{"p":10,"v":2.07},{"p":22,"v":2.03},{"p":34,"v":2.05},{"p":46,"v":1.98},{"p":58,"v":2.06},{"p":70,"v":2.04},{"p":82,"v":2.01},{"p":94,"v":2.07},{"p":106,"v":2.03},{"p":118,"v":2.0},{"p":130,"v":2.08},{"p":142,"v":2.04},{"p":154,"v":2.02},{"p":166,"v":2.06},{"p":178,"v":1.99},{"p":190,"v":2.05},{"p":202,"v":2.09},{"p":214,"v":2.02},{"p":226,"v":2.05},{"p":238,"v":2.03},{"p":250,"v":2.0},{"p":262,"v":2.07},{"p":274,"v":2.04},{"p":286,"v":2.01},{"p":298,"v":2.08},{"p":310,"v":2.03},{"p":322,"v":1.99},{"p":334,"v":2.06},{"p":346,"v":2.04},{"p":358,"v":2.01},{"p":370,"v":2.09},{"p":382,"v":2.02},{"p":394,"v":2.05},{"p":406,"v":2.07},{"p":418,"v":2.0},{"p":430,"v":2.03},{"p":442,"v":2.06},{"p":454,"v":2.01},{"p":466,"v":2.08},{"p":478,"v":2.04},{"p":490,"v":1.99},{"p":502,"v":2.05},{"p":514,"v":2.03},{"p":526,"v":2.06},{"p":538,"v":2.02},{"p":550,"v":2.09},{"p":562,"v":2.0},{"p":574,"v":2.04},{"p":586,"v":2.07},{"p":598,"v":2.01},{"p":610,"v":2.03},{"p":622,"v":2.06},{"p":634,"v":1.98},{"p":646,"v":2.05},{"p":658,"v":2.04},{"p":670,"v":2.08},{"p":682,"v":2.02},{"p":694,"v":2.0},{"p":706,"v":1.88},{"p":718,"v":1.92},{"p":730,"v":2.03},{"p":742,"v":2.01},{"p":754,"v":2.09},{"p":766,"v":2.04},{"p":778,"v":1.99},{"p":790,"v":2.06},{"p":802,"v":2.03},{"p":814,"v":2.05},{"p":826,"v":2.02},{"p":838,"v":2.08},{"p":850,"v":2.0},{"p":862,"v":2.04},{"p":874,"v":2.06},{"p":886,"v":2.01},{"p":898,"v":2.07},{"p":910,"v":2.03},{"p":922,"v":1.99},{"p":934,"v":2.06},{"p":946,"v":2.04},{"p":958,"v":2.01},{"p":970,"v":2.08},{"p":982,"v":2.02},{"p":994,"v":2.03},{"p":1006,"v":2.07},{"p":1018,"v":2.0},{"p":1030,"v":2.05},{"p":1042,"v":2.04},{"p":1054,"v":1.98},{"p":1066,"v":2.06},{"p":1078,"v":2.0},{"p":1090,"v":2.02},{"p":1102,"v":1.98},{"p":1114,"v":2.06},{"p":1126,"v":2.01},{"p":1138,"v":1.99},{"p":1150,"v":2.04},{"p":1162,"v":1.97},{"p":1174,"v":2.0},{"p":1186,"v":2.02},{"p":1198,"v":2.05},{"p":1210,"v":1.98},{"p":1222,"v":2.01},{"p":1234,"v":1.82},{"p":1246,"v":1.81},{"p":1258,"v":1.84},{"p":1270,"v":1.83},{"p":1282,"v":1.86},{"p":1294,"v":1.89},{"p":1306,"v":1.9},{"p":1318,"v":1.88},{"p":1330,"v":1.86},{"p":1342,"v":1.84},{"p":1354,"v":1.85},{"p":1366,"v":1.82},{"p":1378,"v":1.79},{"p":1390,"v":1.81},{"p":1402,"v":2.12},{"p":1414,"v":2.04},{"p":1426,"v":2.07},{"p":1438,"v":2.01},{"p":1450,"v":2.06},{"p":1462,"v":2.03},{"p":1474,"v":2.0},{"p":1486,"v":2.08},{"p":1498,"v":2.04},{"p":1510,"v":2.02},{"p":1522,"v":2.05},{"p":1534,"v":2.09},{"p":1546,"v":2.01},{"p":1558,"v":2.03},{"p":1570,"v":2.06},{"p":1582,"v":1.99},{"p":1594,"v":2.05},{"p":1606,"v":2.04},{"p":1618,"v":2.07},{"p":1630,"v":2.02},{"p":1642,"v":2.03},{"p":1654,"v":2.06},{"p":1666,"v":2.0},{"p":1678,"v":2.08},{"p":1690,"v":2.04},{"p":1702,"v":2.01},{"p":1714,"v":2.05},{"p":1726,"v":2.03},{"p":1738,"v":2.07},{"p":1750,"v":2.02},{"p":1762,"v":2.06},{"p":1774,"v":2.01},{"p":1786,"v":2.04},{"p":1798,"v":2.08},{"p":1810,"v":2.0},{"p":1822,"v":2.03},{"p":1834,"v":2.05},{"p":1846,"v":2.07},{"p":1858,"v":2.02},{"p":1870,"v":2.04},{"p":1882,"v":2.01},{"p":1894,"v":2.06},{"p":1906,"v":2.03},{"p":1918,"v":2.01},{"p":1930,"v":2.07},{"p":1942,"v":2.04},{"p":1954,"v":1.95},{"p":1966,"v":2.0},{"p":1978,"v":2.03},{"p":1990,"v":1.97},{"p":2002,"v":1.98},{"p":2014,"v":2.0},{"p":2026,"v":1.94},{"p":2038,"v":2.01},{"p":2050,"v":1.99},{"p":2062,"v":1.96},{"p":2074,"v":1.98},{"p":2086,"v":2.02},{"p":2098,"v":1.97},{"p":2110,"v":2.01},{"p":2122,"v":1.96},{"p":2134,"v":2.03},{"p":2146,"v":1.99},{"p":2158,"v":1.94},{"p":2170,"v":2.04},{"p":2182,"v":2.0},{"p":2194,"v":1.97},{"p":2206,"v":2.07},{"p":2218,"v":2.0},{"p":2230,"v":2.03},{"p":2242,"v":2.1},{"p":2254,"v":2.01},{"p":2266,"v":2.06},{"p":2278,"v":1.98},{"p":2290,"v":2.05},{"p":2302,"v":2.08},{"p":2314,"v":2.02},{"p":2326,"v":2.04},{"p":2338,"v":2.07},{"p":2350,"v":2.0},{"p":2362,"v":2.05},{"p":2374,"v":2.09},{"p":2386,"v":2.01},{"p":2398,"v":2.03},{"p":2410,"v":2.06},{"p":2422,"v":1.99},{"p":2434,"v":2.04},{"p":2446,"v":2.08},{"p":2458,"v":1.9},{"p":2470,"v":1.82},{"p":2482,"v":1.72},{"p":2494,"v":2.0},{"p":2506,"v":2.07},{"p":2518,"v":2.03},{"p":2530,"v":2.09},{"p":2542,"v":2.01},{"p":2554,"v":2.04},{"p":2566,"v":2.06},{"p":2578,"v":1.98},{"p":2590,"v":2.05},{"p":2602,"v":2.07},{"p":2614,"v":2.02},{"p":2626,"v":2.03},{"p":2638,"v":2.08},{"p":2650,"v":2.0},{"p":2662,"v":2.05},{"p":2674,"v":2.1},{"p":2686,"v":2.04},{"p":2698,"v":2.01},{"p":2710,"v":2.06},{"p":2722,"v":1.99},{"p":2734,"v":2.04},{"p":2746,"v":2.07},{"p":2758,"v":2.01},{"p":2770,"v":2.05},{"p":2782,"v":2.08},{"p":2794,"v":2.02},{"p":2806,"v":2.03},{"p":2818,"v":2.06},{"p":2830,"v":1.97},{"p":2842,"v":2.04},{"p":2854,"v":2.07},{"p":2866,"v":2.01},{"p":2878,"v":2.06},{"p":2890,"v":1.0},{"p":2902,"v":1.03},{"p":2914,"v":0.98},{"p":2926,"v":1.01},{"p":2938,"v":0.97},{"p":2950,"v":1.02},{"p":2962,"v":0.99},{"p":2974,"v":1.04},{"p":2986,"v":0.98},{"p":2998,"v":1.0},{"p":3010,"v":1.02},{"p":3022,"v":0.97},{"p":3034,"v":1.01},{"p":3046,"v":1.0},{"p":3058,"v":0.98},{"p":3070,"v":1.01}],
"ptsD":[{"p":4,"v":2.03},{"p":16,"v":2.07},{"p":28,"v":2.01},{"p":40,"v":2.05},{"p":52,"v":2.1},{"p":64,"v":2.02},{"p":76,"v":2.03},{"p":88,"v":2.06},{"p":100,"v":1.97},{"p":112,"v":2.04},{"p":124,"v":2.07},{"p":136,"v":2.01},{"p":148,"v":2.06},{"p":160,"v":2.03},{"p":172,"v":2.0},{"p":184,"v":2.08},{"p":196,"v":2.05},{"p":208,"v":2.02},{"p":220,"v":2.07},{"p":232,"v":1.88},{"p":244,"v":1.85},{"p":256,"v":2.06},{"p":268,"v":1.99},{"p":280,"v":2.03},{"p":292,"v":2.0},{"p":304,"v":1.94},{"p":316,"v":2.02},{"p":328,"v":1.92},{"p":340,"v":1.88},{"p":352,"v":1.9},{"p":364,"v":2.03},{"p":376,"v":2.08},{"p":388,"v":2.13},{"p":400,"v":2.18},{"p":412,"v":2.21},{"p":424,"v":2.16},{"p":436,"v":2.12},{"p":448,"v":2.08},{"p":460,"v":1.98},{"p":472,"v":2.04},{"p":484,"v":2.0},{"p":496,"v":1.97},{"p":508,"v":2.05},{"p":520,"v":2.01},{"p":532,"v":1.99},{"p":544,"v":2.03},{"p":556,"v":1.96},{"p":568,"v":2.02},{"p":580,"v":1.91},{"p":592,"v":1.99},{"p":604,"v":2.02},{"p":616,"v":2.0},{"p":628,"v":1.97},{"p":640,"v":2.04},{"p":652,"v":2.01},{"p":664,"v":1.98},{"p":676,"v":2.05},{"p":688,"v":2.0},{"p":700,"v":1.96},{"p":712,"v":2.03},{"p":724,"v":2.04},{"p":736,"v":2.01},{"p":748,"v":2.08},{"p":760,"v":2.03},{"p":772,"v":2.05},{"p":784,"v":2.07},{"p":796,"v":2.0},{"p":808,"v":2.03},{"p":820,"v":2.06},{"p":832,"v":2.01},{"p":844,"v":2.05},{"p":856,"v":1.92},{"p":868,"v":1.86},{"p":880,"v":1.84},{"p":892,"v":2.06},{"p":904,"v":2.11},{"p":916,"v":2.07},{"p":928,"v":2.14},{"p":940,"v":2.05},{"p":952,"v":2.09},{"p":964,"v":2.12},{"p":976,"v":2.06},{"p":988,"v":2.08},{"p":1000,"v":2.11},{"p":1012,"v":2.03},{"p":1024,"v":2.1},{"p":1036,"v":2.09},{"p":1048,"v":2.13},{"p":1060,"v":2.07},{"p":1072,"v":1.56},{"p":1084,"v":1.52},{"p":1096,"v":1.55},{"p":1108,"v":1.58},{"p":1120,"v":1.62},{"p":1132,"v":1.96},{"p":1144,"v":2.01},{"p":1156,"v":1.96},{"p":1168,"v":2.18},{"p":1180,"v":2.0},{"p":1192,"v":2.02},{"p":1204,"v":1.95},{"p":1216,"v":1.82},{"p":1228,"v":1.88},{"p":1240,"v":2.01},{"p":1252,"v":2.03},{"p":1264,"v":1.96},{"p":1276,"v":2.04},{"p":1288,"v":2.0},{"p":1300,"v":1.94},{"p":1312,"v":2.03},{"p":1324,"v":2.01},{"p":1336,"v":1.97},{"p":1348,"v":2.05},{"p":1360,"v":1.99},{"p":1372,"v":2.0},{"p":1384,"v":2.04},{"p":1396,"v":1.96},{"p":1408,"v":2.02},{"p":1420,"v":2.01},{"p":1432,"v":1.93},{"p":1444,"v":2.03},{"p":1456,"v":2.0},{"p":1468,"v":2.02},{"p":1480,"v":1.97},{"p":1492,"v":2.06},{"p":1504,"v":2.01},{"p":1516,"v":1.9},{"p":1528,"v":1.84},{"p":1540,"v":1.8},{"p":1552,"v":1.86},{"p":1564,"v":2.02},{"p":1576,"v":2.05},{"p":1588,"v":1.97},{"p":1600,"v":2.01},{"p":1612,"v":1.95},{"p":1624,"v":2.1},{"p":1636,"v":2.14},{"p":1648,"v":2.17},{"p":1660,"v":2.08},{"p":1672,"v":2.04},{"p":1684,"v":1.9},{"p":1696,"v":2.01},{"p":1708,"v":2.06},{"p":1720,"v":1.97},{"p":1732,"v":2.0},{"p":1744,"v":2.03},{"p":1756,"v":1.99},{"p":1768,"v":2.02},{"p":1780,"v":1.94},{"p":1792,"v":2.01},{"p":1804,"v":2.04},{"p":1816,"v":1.97},{"p":1828,"v":2.03},{"p":1840,"v":2.0},{"p":1852,"v":1.96},{"p":1864,"v":2.06},{"p":1876,"v":2.01},{"p":1888,"v":1.99},{"p":1900,"v":2.02},{"p":1912,"v":2.08},{"p":1924,"v":1.97},{"p":1936,"v":2.0},{"p":1948,"v":2.03},{"p":1960,"v":1.95},{"p":1972,"v":2.02},{"p":1984,"v":2.01},{"p":1996,"v":2.04},{"p":2008,"v":1.98},{"p":2020,"v":2.0},{"p":2032,"v":2.03},{"p":2044,"v":1.96},{"p":2056,"v":2.05},{"p":2068,"v":1.86},{"p":2080,"v":1.75},{"p":2092,"v":1.92},{"p":2104,"v":2.08},{"p":2116,"v":2.16},{"p":2128,"v":2.1},{"p":2140,"v":2.03},{"p":2152,"v":1.97},{"p":2164,"v":2.01},{"p":2176,"v":2.05},{"p":2188,"v":1.96},{"p":2200,"v":2.0},{"p":2212,"v":2.02},{"p":2224,"v":2.06},{"p":2236,"v":1.99},{"p":2248,"v":2.1},{"p":2260,"v":1.97},{"p":2272,"v":1.9},{"p":2284,"v":1.84},{"p":2296,"v":1.78},{"p":2308,"v":1.92},{"p":2320,"v":2.05},{"p":2332,"v":1.97},{"p":2344,"v":2.06},{"p":2356,"v":2.07},{"p":2368,"v":1.99},{"p":2380,"v":2.0},{"p":2392,"v":2.02},{"p":2404,"v":1.96},{"p":2416,"v":2.06},{"p":2428,"v":2.03},{"p":2440,"v":1.96},{"p":2452,"v":1.99},{"p":2464,"v":2.04},{"p":2476,"v":1.94},{"p":2488,"v":2.01},{"p":2500,"v":1.95},{"p":2512,"v":2.08},{"p":2524,"v":2.02},{"p":2536,"v":1.93},{"p":2548,"v":2.07},{"p":2560,"v":2.03},{"p":2572,"v":1.97},{"p":2584,"v":2.04},{"p":2596,"v":1.95},{"p":2608,"v":1.98},{"p":2620,"v":2.06},{"p":2632,"v":1.94},{"p":2644,"v":2.01},{"p":2656,"v":1.92},{"p":2668,"v":1.98},{"p":2680,"v":2.03},{"p":2692,"v":1.95},{"p":2704,"v":1.97},{"p":2716,"v":2.02},{"p":2728,"v":1.94},{"p":2740,"v":2.07},{"p":2752,"v":2.09},{"p":2764,"v":1.96},{"p":2776,"v":1.99},{"p":2788,"v":2.01},{"p":2800,"v":1.93},{"p":2812,"v":1.98},{"p":2824,"v":2.04},{"p":2836,"v":1.88},{"p":2848,"v":1.92},{"p":2860,"v":1.85},{"p":2872,"v":1.9},{"p":2884,"v":1.03},{"p":2896,"v":1.0},{"p":2908,"v":0.97},{"p":2920,"v":1.02},{"p":2932,"v":0.98},{"p":2944,"v":1.04},{"p":2956,"v":0.99},{"p":2968,"v":0.96},{"p":2980,"v":1.01},{"p":2992,"v":1.03},{"p":3004,"v":0.98},{"p":3016,"v":1.0},{"p":3028,"v":1.02},{"p":3040,"v":0.86},{"p":3052,"v":0.84},{"p":3064,"v":0.88},{"p":3076,"v":0.85}],
"ptsD2":[{"p":10,"v":1.99},{"p":22,"v":2.05},{"p":34,"v":2.03},{"p":46,"v":2.06},{"p":58,"v":2.02},{"p":70,"v":2.09},{"p":82,"v":2.0},{"p":94,"v":2.04},{"p":106,"v":2.07},{"p":118,"v":2.01},{"p":130,"v":2.03},{"p":142,"v":2.06},{"p":154,"v":1.98},{"p":166,"v":2.05},{"p":178,"v":2.04},{"p":190,"v":2.08},{"p":202,"v":2.02},{"p":214,"v":2.0},{"p":226,"v":2.05},{"p":238,"v":1.9},{"p":250,"v":1.87},{"p":262,"v":2.01},{"p":274,"v":2.09},{"p":286,"v":2.04},{"p":298,"v":1.99},{"p":310,"v":2.06},{"p":322,"v":2.03},{"p":334,"v":1.9},{"p":346,"v":1.86},{"p":358,"v":1.92},{"p":370,"v":2.0},{"p":382,"v":2.04},{"p":394,"v":2.12},{"p":406,"v":2.17},{"p":418,"v":2.2},{"p":430,"v":2.19},{"p":442,"v":2.14},{"p":454,"v":2.1},{"p":466,"v":2.04},{"p":478,"v":2.01},{"p":490,"v":2.08},{"p":502,"v":2.02},{"p":514,"v":2.03},{"p":526,"v":2.07},{"p":538,"v":2.0},{"p":550,"v":2.05},{"p":562,"v":2.04},{"p":574,"v":1.98},{"p":586,"v":1.93},{"p":598,"v":2.03},{"p":610,"v":2.05},{"p":622,"v":2.01},{"p":634,"v":2.09},{"p":646,"v":2.04},{"p":658,"v":2.02},{"p":670,"v":2.07},{"p":682,"v":2.0},{"p":694,"v":2.03},{"p":706,"v":2.05},{"p":718,"v":2.08},{"p":730,"v":2.01},{"p":742,"v":2.04},{"p":754,"v":1.99},{"p":766,"v":2.06},{"p":778,"v":2.03},{"p":790,"v":2.05},{"p":802,"v":2.02},{"p":814,"v":2.07},{"p":826,"v":2.0},{"p":838,"v":2.04},{"p":850,"v":2.09},{"p":862,"v":1.9},{"p":874,"v":1.86},{"p":886,"v":1.88},{"p":898,"v":2.09},{"p":910,"v":2.12},{"p":922,"v":2.05},{"p":934,"v":2.11},{"p":946,"v":2.14},{"p":958,"v":2.08},{"p":970,"v":2.13},{"p":982,"v":2.1},{"p":994,"v":2.07},{"p":1006,"v":2.15},{"p":1018,"v":2.11},{"p":1030,"v":2.09},{"p":1042,"v":2.12},{"p":1054,"v":2.16},{"p":1066,"v":1.6},{"p":1078,"v":1.54},{"p":1090,"v":1.57},{"p":1102,"v":1.53},{"p":1114,"v":1.58},{"p":1126,"v":1.6},{"p":1138,"v":1.92},{"p":1150,"v":2.02},{"p":1162,"v":2.03},{"p":1174,"v":2.12},{"p":1186,"v":2.0},{"p":1198,"v":2.08},{"p":1210,"v":2.04},{"p":1222,"v":1.86},{"p":1234,"v":2.05},{"p":1246,"v":2.03},{"p":1258,"v":2.07},{"p":1270,"v":2.02},{"p":1282,"v":2.06},{"p":1294,"v":2.01},{"p":1306,"v":2.04},{"p":1318,"v":2.08},{"p":1330,"v":2.0},{"p":1342,"v":2.03},{"p":1354,"v":2.05},{"p":1366,"v":2.07},{"p":1378,"v":2.02},{"p":1390,"v":2.04},{"p":1402,"v":2.01},{"p":1414,"v":2.06},{"p":1426,"v":2.03},{"p":1438,"v":2.01},{"p":1450,"v":2.07},{"p":1462,"v":2.04},{"p":1474,"v":2.0},{"p":1486,"v":2.05},{"p":1498,"v":2.08},{"p":1510,"v":2.02},{"p":1522,"v":2.03},{"p":1534,"v":1.86},{"p":1546,"v":1.82},{"p":1558,"v":1.85},{"p":1570,"v":2.04},{"p":1582,"v":2.01},{"p":1594,"v":2.03},{"p":1606,"v":2.07},{"p":1618,"v":2.02},{"p":1630,"v":2.08},{"p":1642,"v":2.12},{"p":1654,"v":2.15},{"p":1666,"v":2.1},{"p":1678,"v":1.99},{"p":1690,"v":2.09},{"p":1702,"v":2.05},{"p":1714,"v":2.02},{"p":1726,"v":2.07},{"p":1738,"v":2.0},{"p":1750,"v":2.03},{"p":1762,"v":2.1},{"p":1774,"v":2.01},{"p":1786,"v":2.06},{"p":1798,"v":1.98},{"p":1810,"v":2.05},{"p":1822,"v":2.08},{"p":1834,"v":2.02},{"p":1846,"v":2.04},{"p":1858,"v":2.07},{"p":1870,"v":2.0},{"p":1882,"v":2.05},{"p":1894,"v":2.09},{"p":1906,"v":2.01},{"p":1918,"v":2.03},{"p":1930,"v":2.06},{"p":1942,"v":1.99},{"p":1954,"v":2.04},{"p":1966,"v":2.08},{"p":1978,"v":2.02},{"p":1990,"v":2.05},{"p":2002,"v":2.0},{"p":2014,"v":2.07},{"p":2026,"v":2.03},{"p":2038,"v":2.09},{"p":2050,"v":2.01},{"p":2062,"v":2.04},{"p":2074,"v":1.8},{"p":2086,"v":1.85},{"p":2098,"v":2.05},{"p":2110,"v":2.1},{"p":2122,"v":2.13},{"p":2134,"v":2.08},{"p":2146,"v":2.08},{"p":2158,"v":2.0},{"p":2170,"v":2.05},{"p":2182,"v":2.1},{"p":2194,"v":2.04},{"p":2206,"v":2.01},{"p":2218,"v":2.06},{"p":2230,"v":1.99},{"p":2242,"v":2.04},{"p":2254,"v":2.07},{"p":2266,"v":2.01},{"p":2278,"v":1.88},{"p":2290,"v":1.81},{"p":2302,"v":1.85},{"p":2314,"v":2.03},{"p":2326,"v":2.06},{"p":2338,"v":1.97},{"p":2350,"v":2.04},{"p":2362,"v":2.07},{"p":2374,"v":2.01},{"p":2386,"v":2.06},{"p":2398,"v":2.03},{"p":2410,"v":2.0},{"p":2422,"v":2.08},{"p":2434,"v":2.05},{"p":2446,"v":2.02},{"p":2458,"v":2.07},{"p":2470,"v":2.01},{"p":2482,"v":2.04},{"p":2494,"v":2.09},{"p":2506,"v":2.02},{"p":2518,"v":2.06},{"p":2530,"v":2.03},{"p":2542,"v":1.99},{"p":2554,"v":2.05},{"p":2566,"v":2.08},{"p":2578,"v":2.01},{"p":2590,"v":2.04},{"p":2602,"v":2.06},{"p":2614,"v":2.0},{"p":2626,"v":2.07},{"p":2638,"v":2.03},{"p":2650,"v":2.05},{"p":2662,"v":1.98},{"p":2674,"v":2.06},{"p":2686,"v":2.04},{"p":2698,"v":2.01},{"p":2710,"v":2.07},{"p":2722,"v":2.03},{"p":2734,"v":2.0},{"p":2746,"v":2.08},{"p":2758,"v":2.04},{"p":2770,"v":2.02},{"p":2782,"v":2.06},{"p":2794,"v":1.99},{"p":2806,"v":2.05},{"p":2818,"v":2.09},{"p":2830,"v":2.02},{"p":2842,"v":1.9},{"p":2854,"v":1.87},{"p":2866,"v":1.93},{"p":2878,"v":1.89},{"p":2890,"v":1.01},{"p":2902,"v":0.98},{"p":2914,"v":1.03},{"p":2926,"v":0.99},{"p":2938,"v":1.02},{"p":2950,"v":0.97},{"p":2962,"v":1.0},{"p":2974,"v":1.04},{"p":2986,"v":0.98},{"p":2998,"v":1.01},{"p":3010,"v":0.99},{"p":3022,"v":1.03},{"p":3046,"v":0.85},{"p":3058,"v":0.87},{"p":3070,"v":0.84}]
},
"layer":[
{"data":{"name":"one"},"layer":[
 {"mark":{"type":"rect","fill":"#ece9d8","stroke":"#a5a5a5","strokeWidth":1},"encoding":{"x":{"datum":0,"type":"quantitative","scale":{"domain":[0,1],"range":[7,609]},"axis":null},"x2":{"datum":1},"y":{"datum":0.935,"type":"quantitative","scale":{"domain":[0,1],"range":[345,8]},"axis":null},"y2":{"datum":1}}},
 {"mark":{"type":"rule","color":"#7f9db9","strokeWidth":1.5},"encoding":{"x":{"datum":0,"type":"quantitative","scale":{"domain":[0,1],"range":[7,609]},"axis":null},"x2":{"datum":1},"y":{"datum":0,"type":"quantitative","scale":{"domain":[0,1],"range":[345,8]},"axis":null}}},
 {"mark":{"type":"rule","color":"#a9a9a9","strokeWidth":1},"encoding":{"x":{"datum":1,"type":"quantitative","scale":{"domain":[0,1],"range":[7,609]},"axis":null},"y":{"datum":0,"type":"quantitative","scale":{"domain":[0,1],"range":[345,8]},"axis":null},"y2":{"datum":0.935}}}
]},
{"data":{"name":"ctl"},"layer":[
 {"mark":{"type":"rect","fill":"#ffffff","stroke":"#7f9db9","strokeWidth":1},"encoding":{"x":{"field":"ctl","type":"nominal","sort":null,"scale":{"domain":["Log2 Ratio Ch1/Ch2","Chromosomal Position"],"range":[9,201],"paddingInner":0.05,"paddingOuter":0},"axis":null},"y":{"datum":0.12,"type":"quantitative","scale":{"domain":[0,1],"range":[30,8]},"axis":null},"y2":{"datum":0.88}}},
 {"mark":{"type":"point","shape":"M -0.31 -0.5 L 0.31 -0.5 L 0.31 0.5 L -0.31 0.5 Z","size":1156,"filled":true,"fill":"#c6d6f3","stroke":"#9db5e0","strokeWidth":1,"opacity":1},"encoding":{"x":{"field":"ctl","type":"nominal","sort":null,"bandPosition":0.94,"scale":{"domain":["Log2 Ratio Ch1/Ch2","Chromosomal Position"],"range":[9,201],"paddingInner":0.05,"paddingOuter":0},"axis":null},"y":{"datum":0.5,"type":"quantitative","scale":{"domain":[0,1],"range":[30,8]},"axis":null}}},
 {"mark":{"type":"point","shape":"M -0.5 -0.22 L 0 0.22 L 0.5 -0.22","size":144,"filled":false,"stroke":"#4d6185","strokeWidth":1.6,"opacity":1},"encoding":{"x":{"field":"ctl","type":"nominal","sort":null,"bandPosition":0.94,"scale":{"domain":["Log2 Ratio Ch1/Ch2","Chromosomal Position"],"range":[9,201],"paddingInner":0.05,"paddingOuter":0},"axis":null},"y":{"datum":0.5,"type":"quantitative","scale":{"domain":[0,1],"range":[30,8]},"axis":null}}},
 {"mark":{"type":"text","align":"left","baseline":"middle","dx":3,"fontSize":8,"color":"#000000"},"encoding":{"x":{"field":"ctl","type":"nominal","sort":null,"bandPosition":0,"scale":{"domain":["Log2 Ratio Ch1/Ch2","Chromosomal Position"],"range":[9,201],"paddingInner":0.05,"paddingOuter":0},"axis":null},"y":{"datum":0.5,"type":"quantitative","scale":{"domain":[0,1],"range":[30,8]},"axis":null},"text":{"field":"ctl"}}}
]},
{"layer":[
 {"data":{"name":"chr"},"transform":[{"filter":"datum.i % 2 == 1"}],"mark":{"type":"rect","fill":"#f1f1f1"},"encoding":{"x":{"field":"s","type":"quantitative","scale":{"domain":[0,3093],"range":[39,588],"nice":false,"zero":false}},"x2":{"field":"e"},"y":{"datum":-2,"type":"quantitative","scale":{"domain":[-2,2],"range":[323.5,42],"nice":false,"zero":false}},"y2":{"datum":2}}},
 {"data":{"name":"chr"},"transform":[{"filter":"datum.i > 1"}],"mark":{"type":"rule","color":"#d4d4d4","strokeDash":[3,3],"strokeWidth":1},"encoding":{"x":{"field":"s","type":"quantitative","scale":{"domain":[0,3093],"range":[39,588],"nice":false,"zero":false}},"y":{"datum":-2,"type":"quantitative","scale":{"domain":[-2,2],"range":[323.5,42],"nice":false,"zero":false}},"y2":{"datum":2}}},
 {"data":{"name":"one"},"mark":{"type":"rule","color":"#3d8f3d","strokeWidth":1},"encoding":{"x":{"datum":0,"type":"quantitative","scale":{"domain":[0,3093],"range":[39,588],"nice":false,"zero":false}},"x2":{"datum":3093},"y":{"datum":0.3,"type":"quantitative","scale":{"domain":[-2,2],"range":[323.5,42],"nice":false,"zero":false}}}},
 {"data":{"name":"one"},"mark":{"type":"rule","color":"#8e4a4a","strokeWidth":1.2},"encoding":{"x":{"datum":0,"type":"quantitative","scale":{"domain":[0,3093],"range":[39,588],"nice":false,"zero":false}},"x2":{"datum":3093},"y":{"datum":-0.3,"type":"quantitative","scale":{"domain":[-2,2],"range":[323.5,42],"nice":false,"zero":false}}}},
 {"data":{"name":"ptsA2"},"mark":{"type":"point","filled":true,"size":10,"fill":"#1f4a1f","stroke":"#0c1c0c","strokeWidth":0.5,"opacity":1},"encoding":{"x":{"field":"p","type":"quantitative","scale":{"domain":[0,3093],"range":[39,588],"nice":false,"zero":false}},"y":{"field":"v","type":"quantitative","scale":{"domain":[-2,2],"range":[323.5,42],"nice":false,"zero":false}}}},
 {"data":{"name":"ptsA"},"mark":{"type":"point","filled":true,"size":10,"fill":"#1f4a1f","stroke":"#0c1c0c","strokeWidth":0.5,"opacity":1},"encoding":{"x":{"field":"p","type":"quantitative","scale":{"domain":[0,3093],"range":[39,588],"nice":false,"zero":false},"axis":{"orient":"bottom","offset":-419.5,"zindex":1,"values":[124.5,370.5,591,785.5,971.5,1147.5,1312.5,1465,1608.5,1747,1882.5,2017,2141.5,2252.5,2357.5,2454,2539.5,2619,2687.5,2748.5,2804,2853.5,2956.5,3063.5,3080],"labelExpr":"datum.value < 249 ? '1' : datum.value < 492 ? '2' : datum.value < 690 ? '3' : datum.value < 881 ? '4' : datum.value < 1062 ? '5' : datum.value < 1233 ? '6' : datum.value < 1392 ? '7' : datum.value < 1538 ? '8' : datum.value < 1679 ? '9' : datum.value < 1815 ? '10' : datum.value < 1950 ? '11' : datum.value < 2084 ? '12' : datum.value < 2199 ? '13' : datum.value < 2306 ? '14' : datum.value < 2409 ? '15' : datum.value < 2499 ? '16' : datum.value < 2580 ? '17' : datum.value < 2658 ? '18' : datum.value < 2717 ? '19' : datum.value < 2780 ? '20' : datum.value < 2828 ? '21' : datum.value < 2879 ? '22' : datum.value < 3034 ? 'X' : datum.value < 3075 ? 'Y' : 'Junk'","labelAngle":-55,"labelAlign":"center","labelBaseline":"middle","labelPadding":10,"labelFontSize":7,"labelColor":"#666666","ticks":false,"tickSize":0,"domainColor":"#000000","domainWidth":2,"title":null,"labelOverlap":false,"labelFlush":false,"labelBound":false}},"y":{"field":"v","type":"quantitative","scale":{"domain":[-2,2],"range":[323.5,42],"nice":false,"zero":false},"axis":{"orient":"left","offset":-39,"zindex":1,"values":[-1.6,-1.2,-0.8,-0.4,0,0.4,0.8,1.2,1.6,2],"labelExpr":"datum.value == 0 ? '-0.00' : format(datum.value, '.2f')","labelFontSize":8.5,"labelColor":"#222222","tickSize":3,"tickColor":"#000000","labelPadding":4,"domainColor":"#000000","domainWidth":1.5,"title":null,"labelOverlap":false,"labelFlush":false}}}},
 {"data":{"name":"segA"},"mark":{"type":"rule","color":"#3ae63a","strokeWidth":4},"encoding":{"x":{"field":"p","type":"quantitative","scale":{"domain":[0,3093],"range":[39,588],"nice":false,"zero":false}},"x2":{"field":"p2"},"y":{"field":"v","type":"quantitative","scale":{"domain":[-2,2],"range":[323.5,42],"nice":false,"zero":false}}}},
 {"data":{"name":"pinkA"},"mark":{"type":"line","color":"#d894bc","strokeWidth":1},"encoding":{"x":{"field":"p","type":"quantitative","scale":{"domain":[0,3093],"range":[39,588],"nice":false,"zero":false}},"y":{"field":"v","type":"quantitative","scale":{"domain":[-2,2],"range":[323.5,42],"nice":false,"zero":false}}}},
 {"data":{"name":"one"},"mark":{"type":"point","shape":"circle","size":908,"filled":false,"stroke":"#e8141b","strokeWidth":2.5,"opacity":1},"encoding":{"x":{"datum":1307,"type":"quantitative","scale":{"domain":[0,3093],"range":[39,588],"nice":false,"zero":false}},"y":{"datum":-0.063,"type":"quantitative","scale":{"domain":[-2,2],"range":[323.5,42],"nice":false,"zero":false}}}},
 {"data":{"name":"one"},"mark":{"type":"text","text":"A","fontSize":25,"fontWeight":"bold","align":"center","baseline":"alphabetic","color":"#000000"},"encoding":{"x":{"datum":101,"type":"quantitative","scale":{"domain":[0,3093],"range":[39,588],"nice":false,"zero":false}},"y":{"datum":-1.87,"type":"quantitative","scale":{"domain":[-2,2],"range":[323.5,42],"nice":false,"zero":false}}}}
]},
{"layer":[
 {"data":{"name":"chr"},"transform":[{"filter":"datum.i % 2 == 1"}],"mark":{"type":"rect","fill":"#f0f0f0"},"encoding":{"x":{"field":"s","type":"quantitative","scale":{"domain":[0,3093],"range":[712,1263],"nice":false,"zero":false}},"x2":{"field":"e"},"y":{"datum":0,"type":"quantitative","scale":{"domain":[0,4],"range":[347,28],"nice":false,"zero":false}},"y2":{"datum":4}}},
 {"data":{"name":"chr"},"transform":[{"filter":"datum.i > 1"}],"mark":{"type":"rule","color":"#cccccc","strokeDash":[3,3],"strokeWidth":1},"encoding":{"x":{"field":"s","type":"quantitative","scale":{"domain":[0,3093],"range":[712,1263],"nice":false,"zero":false}},"y":{"datum":0,"type":"quantitative","scale":{"domain":[0,4],"range":[347,28],"nice":false,"zero":false}},"y2":{"datum":4}}},
 {"data":{"name":"one"},"mark":{"type":"rule","color":"#2e7d32","strokeWidth":1.2},"encoding":{"x":{"datum":0,"type":"quantitative","scale":{"domain":[0,3093],"range":[712,1263],"nice":false,"zero":false}},"x2":{"datum":3093},"y":{"datum":3,"type":"quantitative","scale":{"domain":[0,4],"range":[347,28],"nice":false,"zero":false}}}},
 {"data":{"name":"one"},"mark":{"type":"rule","color":"#7b1e2a","strokeWidth":1.2},"encoding":{"x":{"datum":0,"type":"quantitative","scale":{"domain":[0,3093],"range":[712,1263],"nice":false,"zero":false}},"x2":{"datum":3093},"y":{"datum":1,"type":"quantitative","scale":{"domain":[0,4],"range":[347,28],"nice":false,"zero":false}}}},
 {"data":{"name":"pathB"},"mark":{"type":"line","color":"#3cdc3c","strokeWidth":1.5},"encoding":{"x":{"field":"p","type":"quantitative","scale":{"domain":[0,3093],"range":[712,1263],"nice":false,"zero":false}},"y":{"field":"v","type":"quantitative","scale":{"domain":[0,4],"range":[347,28],"nice":false,"zero":false}}}},
 {"data":{"name":"ptsB2"},"mark":{"type":"point","filled":true,"size":18,"fill":"#4aa84a","stroke":"#102010","strokeWidth":0.8,"opacity":1},"encoding":{"x":{"field":"p","type":"quantitative","scale":{"domain":[0,3093],"range":[712,1263],"nice":false,"zero":false}},"y":{"field":"v","type":"quantitative","scale":{"domain":[0,4],"range":[347,28],"nice":false,"zero":false}}}},
 {"data":{"name":"ptsB"},"mark":{"type":"point","filled":true,"size":18,"fill":"#4aa84a","stroke":"#102010","strokeWidth":0.8,"opacity":1},"encoding":{"x":{"field":"p","type":"quantitative","scale":{"domain":[0,3093],"range":[712,1263],"nice":false,"zero":false},"axis":{"orient":"bottom","offset":-396,"zindex":1,"values":[124.5,370.5,591,785.5,971.5,1147.5,1312.5,1465,1608.5,1747,1882.5,2017,2141.5,2252.5,2357.5,2454,2539.5,2619,2687.5,2748.5,2804,2853.5,2956.5,3063.5,3082],"labelExpr":"datum.value < 249 ? '1' : datum.value < 492 ? '2' : datum.value < 690 ? '3' : datum.value < 881 ? '4' : datum.value < 1062 ? '5' : datum.value < 1233 ? '6' : datum.value < 1392 ? '7' : datum.value < 1538 ? '8' : datum.value < 1679 ? '9' : datum.value < 1815 ? '10' : datum.value < 1950 ? '11' : datum.value < 2084 ? '12' : datum.value < 2199 ? '13' : datum.value < 2306 ? '14' : datum.value < 2409 ? '15' : datum.value < 2499 ? '16' : datum.value < 2580 ? '17' : datum.value < 2658 ? '18' : datum.value < 2717 ? '19' : datum.value < 2780 ? '20' : datum.value < 2828 ? '21' : datum.value < 2879 ? '22' : datum.value < 3034 ? 'X' : datum.value < 3075 ? 'Y' : 'Junk'","labelAngle":-45,"labelAlign":"center","labelBaseline":"middle","labelPadding":13,"labelFontSize":10.5,"labelColor":"#555555","ticks":false,"tickSize":0,"domainColor":"#000000","domainWidth":3,"title":"Chromosomal Position","titleX":1002,"titleY":36,"titleAlign":"center","titleBaseline":"middle","titleFontSize":12.5,"titleFontWeight":"normal","titleColor":"#333333","labelOverlap":false,"labelFlush":false,"labelBound":false}},"y":{"field":"v","type":"quantitative","scale":{"domain":[0,4],"range":[347,28],"nice":false,"zero":false},"axis":{"orient":"left","offset":-712,"zindex":1,"values":[0.4,0.8,1.2,1.6,2,2.4,2.8,3.2,3.6,4],"format":".2f","labelFontSize":10.5,"labelColor":"#333333","tickSize":4,"tickColor":"#000000","labelPadding":9,"domainColor":"#000000","domainWidth":2.5,"title":"Copy Number","titleX":-66,"titleY":177,"titleAngle":-90,"titleAlign":"center","titleBaseline":"middle","titleFontSize":12.5,"titleFontWeight":"normal","titleColor":"#333333","labelOverlap":false,"labelFlush":false}}}},
 {"data":{"name":"segB"},"mark":{"type":"rule","color":"#3ae63a","strokeWidth":5},"encoding":{"x":{"field":"p","type":"quantitative","scale":{"domain":[0,3093],"range":[712,1263],"nice":false,"zero":false}},"x2":{"field":"p2"},"y":{"field":"v","type":"quantitative","scale":{"domain":[0,4],"range":[347,28],"nice":false,"zero":false}}}},
 {"data":{"name":"one"},"mark":{"type":"point","shape":"circle","size":1100,"filled":false,"stroke":"#e8141b","strokeWidth":2.5,"opacity":1},"encoding":{"x":{"datum":1308,"type":"quantitative","scale":{"domain":[0,3093],"range":[712,1263],"nice":false,"zero":false}},"y":{"datum":1.837,"type":"quantitative","scale":{"domain":[0,4],"range":[347,28],"nice":false,"zero":false}}}},
 {"data":{"name":"one"},"mark":{"type":"text","text":"B","fontSize":25,"fontWeight":"bold","align":"center","baseline":"alphabetic","color":"#000000"},"encoding":{"x":{"datum":118,"type":"quantitative","scale":{"domain":[0,3093],"range":[712,1263],"nice":false,"zero":false}},"y":{"datum":0.176,"type":"quantitative","scale":{"domain":[0,4],"range":[347,28],"nice":false,"zero":false}}}}
]},
{"data":{"name":"one"},"layer":[
 {"mark":{"type":"rect","fill":"#ece9d8","stroke":"#a5a5a5","strokeWidth":1},"encoding":{"x":{"datum":0,"type":"quantitative","scale":{"domain":[0,1],"range":[0,618]},"axis":null},"x2":{"datum":1},"y":{"datum":0.932,"type":"quantitative","scale":{"domain":[0,1],"range":[723,398]},"axis":null},"y2":{"datum":1}}},
 {"mark":{"type":"rule","color":"#a9a9a9","strokeWidth":1},"encoding":{"x":{"datum":1,"type":"quantitative","scale":{"domain":[0,1],"range":[0,618]},"axis":null},"y":{"datum":0,"type":"quantitative","scale":{"domain":[0,1],"range":[723,398]},"axis":null},"y2":{"datum":0.932}}}
]},
{"data":{"name":"ctl"},"layer":[
 {"mark":{"type":"rect","fill":"#ffffff","stroke":"#7f9db9","strokeWidth":1},"encoding":{"x":{"field":"ctl","type":"nominal","sort":null,"scale":{"domain":["Log2 Ratio Ch1/Ch2","Chromosomal Position"],"range":[2,138],"paddingInner":0.04,"paddingOuter":0},"axis":null},"y":{"datum":0.12,"type":"quantitative","scale":{"domain":[0,1],"range":[420,398]},"axis":null},"y2":{"datum":0.88}}},
 {"mark":{"type":"point","shape":"M -0.31 -0.5 L 0.31 -0.5 L 0.31 0.5 L -0.31 0.5 Z","size":900,"filled":true,"fill":"#c6d6f3","stroke":"#9db5e0","strokeWidth":1,"opacity":1},"encoding":{"x":{"field":"ctl","type":"nominal","sort":null,"bandPosition":0.93,"scale":{"domain":["Log2 Ratio Ch1/Ch2","Chromosomal Position"],"range":[2,138],"paddingInner":0.04,"paddingOuter":0},"axis":null},"y":{"datum":0.5,"type":"quantitative","scale":{"domain":[0,1],"range":[420,398]},"axis":null}}},
 {"mark":{"type":"point","shape":"M -0.5 -0.22 L 0 0.22 L 0.5 -0.22","size":81,"filled":false,"stroke":"#4d6185","strokeWidth":1.4,"opacity":1},"encoding":{"x":{"field":"ctl","type":"nominal","sort":null,"bandPosition":0.93,"scale":{"domain":["Log2 Ratio Ch1/Ch2","Chromosomal Position"],"range":[2,138],"paddingInner":0.04,"paddingOuter":0},"axis":null},"y":{"datum":0.5,"type":"quantitative","scale":{"domain":[0,1],"range":[420,398]},"axis":null}}},
 {"mark":{"type":"text","align":"left","baseline":"middle","dx":2,"fontSize":6,"color":"#000000"},"encoding":{"x":{"field":"ctl","type":"nominal","sort":null,"bandPosition":0,"scale":{"domain":["Log2 Ratio Ch1/Ch2","Chromosomal Position"],"range":[2,138],"paddingInner":0.04,"paddingOuter":0},"axis":null},"y":{"datum":0.5,"type":"quantitative","scale":{"domain":[0,1],"range":[420,398]},"axis":null},"text":{"field":"ctl"}}}
]},
{"layer":[
 {"data":{"name":"chr"},"transform":[{"filter":"datum.i % 2 == 1"}],"mark":{"type":"rect","fill":"#f1f1f1"},"encoding":{"x":{"field":"s","type":"quantitative","scale":{"domain":[0,3093],"range":[21,603],"nice":false,"zero":false}},"x2":{"field":"e"},"y":{"datum":-2,"type":"quantitative","scale":{"domain":[-2,2],"range":[705,431],"nice":false,"zero":false}},"y2":{"datum":2}}},
 {"data":{"name":"chr"},"transform":[{"filter":"datum.i > 1"}],"mark":{"type":"rule","color":"#d4d4d4","strokeDash":[3,3],"strokeWidth":1},"encoding":{"x":{"field":"s","type":"quantitative","scale":{"domain":[0,3093],"range":[21,603],"nice":false,"zero":false}},"y":{"datum":-2,"type":"quantitative","scale":{"domain":[-2,2],"range":[705,431],"nice":false,"zero":false}},"y2":{"datum":2}}},
 {"data":{"name":"one"},"mark":{"type":"rule","color":"#3d8f3d","strokeWidth":1},"encoding":{"x":{"datum":0,"type":"quantitative","scale":{"domain":[0,3093],"range":[21,603],"nice":false,"zero":false}},"x2":{"datum":3093},"y":{"datum":0.3,"type":"quantitative","scale":{"domain":[-2,2],"range":[705,431],"nice":false,"zero":false}}}},
 {"data":{"name":"one"},"mark":{"type":"rule","color":"#7e3434","strokeWidth":1.2},"encoding":{"x":{"datum":0,"type":"quantitative","scale":{"domain":[0,3093],"range":[21,603],"nice":false,"zero":false}},"x2":{"datum":3093},"y":{"datum":-0.3,"type":"quantitative","scale":{"domain":[-2,2],"range":[705,431],"nice":false,"zero":false}}}},
 {"data":{"name":"ptsC2"},"mark":{"type":"point","filled":true,"size":10,"fill":"#1f4a1f","stroke":"#0c1c0c","strokeWidth":0.5,"opacity":1},"encoding":{"x":{"field":"p","type":"quantitative","scale":{"domain":[0,3093],"range":[21,603],"nice":false,"zero":false}},"y":{"field":"v","type":"quantitative","scale":{"domain":[-2,2],"range":[705,431],"nice":false,"zero":false}}}},
 {"data":{"name":"ptsC"},"mark":{"type":"point","filled":true,"size":10,"fill":"#1f4a1f","stroke":"#0c1c0c","strokeWidth":0.5,"opacity":1},"encoding":{"x":{"field":"p","type":"quantitative","scale":{"domain":[0,3093],"range":[21,603],"nice":false,"zero":false},"axis":{"orient":"bottom","offset":-38,"zindex":1,"values":[124.5,370.5,591,785.5,971.5,1147.5,1312.5,1465,1608.5,1747,1882.5,2017,2141.5,2252.5,2357.5,2454,2539.5,2619,2687.5,2748.5,2804,2853.5,2956.5,3063.5],"labelExpr":"datum.value < 249 ? '1' : datum.value < 492 ? '2' : datum.value < 690 ? '3' : datum.value < 881 ? '4' : datum.value < 1062 ? '5' : datum.value < 1233 ? '6' : datum.value < 1392 ? '7' : datum.value < 1538 ? '8' : datum.value < 1679 ? '9' : datum.value < 1815 ? '10' : datum.value < 1950 ? '11' : datum.value < 2084 ? '12' : datum.value < 2199 ? '13' : datum.value < 2306 ? '14' : datum.value < 2409 ? '15' : datum.value < 2499 ? '16' : datum.value < 2580 ? '17' : datum.value < 2658 ? '18' : datum.value < 2717 ? '19' : datum.value < 2780 ? '20' : datum.value < 2828 ? '21' : datum.value < 2879 ? '22' : datum.value < 3034 ? 'X' : 'Y'","labelAngle":-55,"labelAlign":"center","labelBaseline":"middle","labelPadding":10,"labelFontSize":6,"labelColor":"#666666","ticks":false,"tickSize":0,"domainColor":"#000000","domainWidth":2,"title":null,"labelOverlap":false,"labelFlush":false,"labelBound":false}},"y":{"field":"v","type":"quantitative","scale":{"domain":[-2,2],"range":[705,431],"nice":false,"zero":false},"axis":{"orient":"left","offset":-21,"zindex":1,"values":[-1.6,-1.2,-0.8,-0.4,0,0.4,0.8,1.2,1.6,2],"labelExpr":"datum.value == 0 ? '-0.00' : format(datum.value, '.2f')","labelFontSize":5.5,"labelColor":"#222222","tickSize":2,"tickColor":"#000000","labelPadding":3,"domainColor":"#000000","domainWidth":1.5,"title":null,"labelOverlap":false,"labelFlush":false}}}},
 {"data":{"name":"segC"},"mark":{"type":"rule","color":"#3ae63a","strokeWidth":4},"encoding":{"x":{"field":"p","type":"quantitative","scale":{"domain":[0,3093],"range":[21,603],"nice":false,"zero":false}},"x2":{"field":"p2"},"y":{"field":"v","type":"quantitative","scale":{"domain":[-2,2],"range":[705,431],"nice":false,"zero":false}}}},
 {"data":{"name":"pinkC"},"mark":{"type":"line","color":"#d99ac0","strokeWidth":1},"encoding":{"x":{"field":"p","type":"quantitative","scale":{"domain":[0,3093],"range":[21,603],"nice":false,"zero":false}},"y":{"field":"v","type":"quantitative","scale":{"domain":[-2,2],"range":[705,431],"nice":false,"zero":false}}}},
 {"data":{"name":"one"},"mark":{"type":"point","shape":"M 0.667 0 C 0.667 0.552 0.368 1 0 1 C -0.368 1 -0.667 0.552 -0.667 0 C -0.667 -0.552 -0.368 -1 0 -1 C 0.368 -1 0.667 -0.552 0.667 0 Z","size":1089,"filled":false,"stroke":"#e8141b","strokeWidth":2.5,"opacity":1},"encoding":{"x":{"datum":1081,"type":"quantitative","scale":{"domain":[0,3093],"range":[21,603],"nice":false,"zero":false}},"y":{"datum":-0.073,"type":"quantitative","scale":{"domain":[-2,2],"range":[705,431],"nice":false,"zero":false}}}},
 {"data":{"name":"one"},"mark":{"type":"text","text":"C","fontSize":28,"fontWeight":"bold","align":"center","baseline":"alphabetic","color":"#000000"},"encoding":{"x":{"datum":122,"type":"quantitative","scale":{"domain":[0,3093],"range":[21,603],"nice":false,"zero":false}},"y":{"datum":-1.836,"type":"quantitative","scale":{"domain":[-2,2],"range":[705,431],"nice":false,"zero":false}}}}
]},
{"layer":[
 {"data":{"name":"chr"},"transform":[{"filter":"datum.i % 2 == 1"}],"mark":{"type":"rect","fill":"#f0f0f0"},"encoding":{"x":{"field":"s","type":"quantitative","scale":{"domain":[0,3093],"range":[729,1283],"nice":false,"zero":false}},"x2":{"field":"e"},"y":{"datum":0,"type":"quantitative","scale":{"domain":[0,4],"range":[703.5,418],"nice":false,"zero":false}},"y2":{"datum":4}}},
 {"data":{"name":"chr"},"transform":[{"filter":"datum.i > 1"}],"mark":{"type":"rule","color":"#cccccc","strokeDash":[3,3],"strokeWidth":1},"encoding":{"x":{"field":"s","type":"quantitative","scale":{"domain":[0,3093],"range":[729,1283],"nice":false,"zero":false}},"y":{"datum":0,"type":"quantitative","scale":{"domain":[0,4],"range":[703.5,418],"nice":false,"zero":false}},"y2":{"datum":4}}},
 {"data":{"name":"one"},"mark":{"type":"rule","color":"#2e7d32","strokeWidth":1.2},"encoding":{"x":{"datum":0,"type":"quantitative","scale":{"domain":[0,3093],"range":[729,1283],"nice":false,"zero":false}},"x2":{"datum":3093},"y":{"datum":3,"type":"quantitative","scale":{"domain":[0,4],"range":[703.5,418],"nice":false,"zero":false}}}},
 {"data":{"name":"one"},"mark":{"type":"rule","color":"#7b1e2a","strokeWidth":1.2},"encoding":{"x":{"datum":0,"type":"quantitative","scale":{"domain":[0,3093],"range":[729,1283],"nice":false,"zero":false}},"x2":{"datum":3093},"y":{"datum":1,"type":"quantitative","scale":{"domain":[0,4],"range":[703.5,418],"nice":false,"zero":false}}}},
 {"data":{"name":"pathD"},"mark":{"type":"line","color":"#3cdc3c","strokeWidth":1.5},"encoding":{"x":{"field":"p","type":"quantitative","scale":{"domain":[0,3093],"range":[729,1283],"nice":false,"zero":false}},"y":{"field":"v","type":"quantitative","scale":{"domain":[0,4],"range":[703.5,418],"nice":false,"zero":false}}}},
 {"data":{"name":"ptsD2"},"mark":{"type":"point","filled":true,"size":18,"fill":"#4aa84a","stroke":"#102010","strokeWidth":0.8,"opacity":1},"encoding":{"x":{"field":"p","type":"quantitative","scale":{"domain":[0,3093],"range":[729,1283],"nice":false,"zero":false}},"y":{"field":"v","type":"quantitative","scale":{"domain":[0,4],"range":[703.5,418],"nice":false,"zero":false}}}},
 {"data":{"name":"ptsD"},"mark":{"type":"point","filled":true,"size":18,"fill":"#4aa84a","stroke":"#102010","strokeWidth":0.8,"opacity":1},"encoding":{"x":{"field":"p","type":"quantitative","scale":{"domain":[0,3093],"range":[729,1283],"nice":false,"zero":false},"axis":{"orient":"bottom","offset":-39.5,"zindex":1,"values":[124.5,370.5,591,785.5,971.5,1147.5,1312.5,1465,1608.5,1747,1882.5,2017,2141.5,2252.5,2357.5,2454,2539.5,2619,2687.5,2748.5,2804,2853.5,2956.5,3066,3046],"labelExpr":"datum.value < 249 ? '1' : datum.value < 492 ? '2' : datum.value < 690 ? '3' : datum.value < 881 ? '4' : datum.value < 1062 ? '5' : datum.value < 1233 ? '6' : datum.value < 1392 ? '7' : datum.value < 1538 ? '8' : datum.value < 1679 ? '9' : datum.value < 1815 ? '10' : datum.value < 1950 ? '11' : datum.value < 2084 ? '12' : datum.value < 2199 ? '13' : datum.value < 2306 ? '14' : datum.value < 2409 ? '15' : datum.value < 2499 ? '16' : datum.value < 2580 ? '17' : datum.value < 2658 ? '18' : datum.value < 2717 ? '19' : datum.value < 2780 ? '20' : datum.value < 2828 ? '21' : datum.value < 2879 ? '22' : datum.value < 3034 ? 'X' : datum.value < 3060 ? 'Junk' : 'Y'","labelAngle":-45,"labelAlign":"center","labelBaseline":"middle","labelPadding":12,"labelFontSize":10.5,"labelColor":"#555555","ticks":false,"tickSize":0,"domainColor":"#000000","domainWidth":3,"title":"Chromosomal Position","titleX":1019,"titleY":33.5,"titleAlign":"center","titleBaseline":"middle","titleFontSize":12.5,"titleFontWeight":"normal","titleColor":"#333333","labelOverlap":false,"labelFlush":false,"labelBound":false}},"y":{"field":"v","type":"quantitative","scale":{"domain":[0,4],"range":[703.5,418],"nice":false,"zero":false},"axis":{"orient":"left","offset":-729,"zindex":1,"values":[0.4,0.8,1.2,1.6,2,2.4,2.8,3.2,3.6,4],"format":".2f","labelFontSize":10.5,"labelColor":"#333333","tickSize":4,"tickColor":"#000000","labelPadding":9,"domainColor":"#000000","domainWidth":2.5,"title":"Copy Number","titleX":-60,"titleY":550,"titleAngle":-90,"titleAlign":"center","titleBaseline":"middle","titleFontSize":12.5,"titleFontWeight":"normal","titleColor":"#333333","labelOverlap":false,"labelFlush":false}}}},
 {"data":{"name":"segD"},"mark":{"type":"rule","color":"#3ae63a","strokeWidth":5},"encoding":{"x":{"field":"p","type":"quantitative","scale":{"domain":[0,3093],"range":[729,1283],"nice":false,"zero":false}},"x2":{"field":"p2"},"y":{"field":"v","type":"quantitative","scale":{"domain":[0,4],"range":[703.5,418],"nice":false,"zero":false}}}},
 {"data":{"name":"one"},"mark":{"type":"point","shape":"M 0.643 0 C 0.643 0.552 0.355 1 0 1 C -0.355 1 -0.643 0.552 -0.643 0 C -0.643 -0.552 -0.355 -1 0 -1 C 0.355 -1 0.643 -0.552 0.643 0 Z","size":1764,"filled":false,"stroke":"#e8141b","strokeWidth":2.5,"opacity":1},"encoding":{"x":{"datum":1094,"type":"quantitative","scale":{"domain":[0,3093],"range":[729,1283],"nice":false,"zero":false}},"y":{"datum":1.674,"type":"quantitative","scale":{"domain":[0,4],"range":[703.5,418],"nice":false,"zero":false}}}},
 {"data":{"name":"one"},"mark":{"type":"text","text":"D","fontSize":25,"fontWeight":"bold","align":"center","baseline":"alphabetic","color":"#000000"},"encoding":{"x":{"datum":117,"type":"quantitative","scale":{"domain":[0,3093],"range":[729,1283],"nice":false,"zero":false}},"y":{"datum":0.147,"type":"quantitative","scale":{"domain":[0,4],"range":[703.5,418],"nice":false,"zero":false}}}}
]}
],
"resolve":{"scale":{"x":"independent","y":"independent"},"axis":{"x":"independent","y":"independent"}}
}
